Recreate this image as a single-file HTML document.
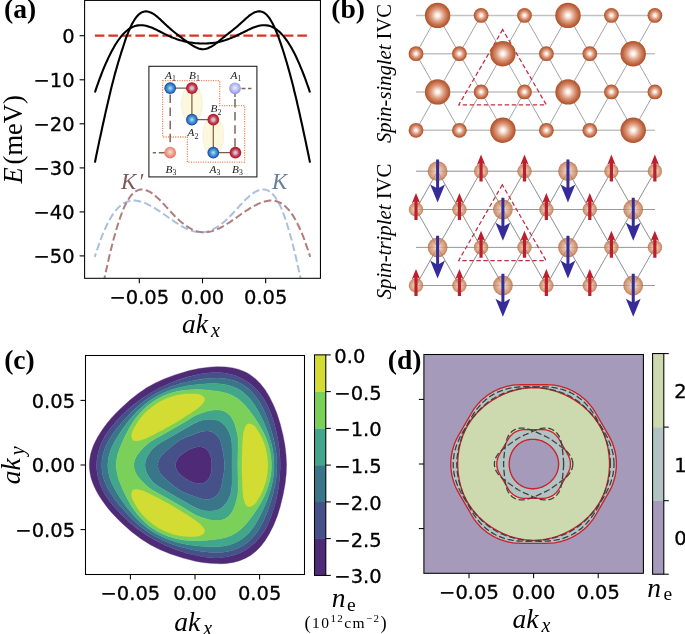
<!DOCTYPE html>
<html><head><meta charset="utf-8"><title>Figure</title>
<style>html,body{margin:0;padding:0;background:#fff}svg{display:block}</style>
</head><body>
<svg width="685" height="634" viewBox="0 0 685 634">
<rect width="685" height="634" fill="#fff"/>
<defs>
<radialGradient id="gS" cx="50%" cy="50%" r="50%"><stop offset="0" stop-color="#ffffff"/><stop offset="0.14" stop-color="#fdf0ea"/><stop offset="0.5" stop-color="#dd9e82"/><stop offset="0.8" stop-color="#c26a44"/><stop offset="1" stop-color="#ad5029"/></radialGradient>
<radialGradient id="gT" cx="50%" cy="50%" r="50%"><stop offset="0" stop-color="#f8eae2"/><stop offset="0.4" stop-color="#e2b496"/><stop offset="0.8" stop-color="#cc8a62"/><stop offset="1" stop-color="#b96a42"/></radialGradient>
<radialGradient id="gB" cx="50%" cy="50%" r="50%"><stop offset="0" stop-color="#c4e6f6"/><stop offset="0.35" stop-color="#5cacdc"/><stop offset="0.7" stop-color="#2e80c8"/><stop offset="0.88" stop-color="#2a52aa"/><stop offset="1" stop-color="#2a3a9c"/></radialGradient>
<radialGradient id="gR" cx="50%" cy="50%" r="50%"><stop offset="0" stop-color="#dad6f0"/><stop offset="0.3" stop-color="#cba4c0"/><stop offset="0.62" stop-color="#c43a4a"/><stop offset="0.9" stop-color="#b81c28"/><stop offset="1" stop-color="#a81820"/></radialGradient>
<radialGradient id="gBl" cx="50%" cy="45%" r="50%"><stop offset="0" stop-color="#eef0ff"/><stop offset="0.6" stop-color="#b9bdf0"/><stop offset="1" stop-color="#9a9ae0"/></radialGradient>
<radialGradient id="gRl" cx="50%" cy="45%" r="50%"><stop offset="0" stop-color="#fbe0d6"/><stop offset="0.6" stop-color="#ee9f8c"/><stop offset="1" stop-color="#e27c68"/></radialGradient>
<clipPath id="clipA"><rect x="84.6" y="0" width="235.8" height="278.3"/></clipPath>
<clipPath id="clipC"><rect x="85.5" y="355.5" width="219" height="219"/></clipPath>
<clipPath id="clipD"><rect x="424.4" y="354.4" width="218.7" height="218"/></clipPath>
</defs>
<g clip-path="url(#clipA)">
<path d="M94.9,35.6 L310.1,35.6" stroke="#e03020" stroke-width="2.1" stroke-dasharray="9.5,4" fill="none"/>
<path d="M94.9,162.6 L96.4,155.0 L98.0,147.4 L99.5,140.1 L101.1,132.9 L102.6,125.8 L104.2,118.8 L105.7,111.9 L107.3,105.1 L108.8,98.4 L110.4,91.8 L111.9,85.5 L113.5,79.4 L115.0,73.6 L116.6,68.1 L118.1,62.7 L119.7,57.6 L121.2,52.7 L122.8,47.9 L124.3,43.2 L125.8,38.7 L127.4,34.5 L128.9,30.7 L130.5,27.2 L132.0,24.0 L133.6,21.2 L135.1,18.8 L136.7,16.7 L138.2,15.0 L139.8,13.6 L141.3,12.6 L142.9,11.9 L144.4,11.5 L146.0,11.4 L147.5,11.5 L149.1,11.9 L150.6,12.4 L152.2,13.2 L153.7,14.1 L155.3,15.2 L156.8,16.4 L158.3,17.7 L159.9,19.1 L161.4,20.6 L163.0,22.0 L164.5,23.5 L166.1,25.0 L167.6,26.4 L169.2,27.8 L170.7,29.1 L172.3,30.5 L173.8,31.7 L175.4,33.0 L176.9,34.2 L178.5,35.4 L180.0,36.6 L181.6,37.7 L183.1,38.9 L184.7,40.0 L186.2,41.1 L187.7,42.2 L189.3,43.3 L190.8,44.4 L192.4,45.4 L193.9,46.3 L195.5,47.1 L197.0,47.8 L198.6,48.4 L200.1,48.9 L201.7,49.1 L203.2,49.2 L204.8,49.0 L206.3,48.7 L207.9,48.2 L209.4,47.5 L211.0,46.8 L212.5,45.9 L214.1,44.8 L215.6,43.7 L217.2,42.6 L218.7,41.4 L220.2,40.1 L221.8,38.8 L223.3,37.5 L224.9,36.3 L226.4,35.0 L228.0,33.8 L229.5,32.6 L231.1,31.4 L232.6,30.2 L234.2,28.9 L235.7,27.7 L237.3,26.4 L238.8,25.0 L240.4,23.6 L241.9,22.2 L243.5,20.8 L245.0,19.4 L246.6,18.0 L248.1,16.7 L249.6,15.4 L251.2,14.3 L252.7,13.4 L254.3,12.5 L255.8,11.9 L257.4,11.5 L258.9,11.3 L260.5,11.4 L262.0,11.8 L263.6,12.4 L265.1,13.5 L266.7,14.8 L268.2,16.6 L269.8,18.7 L271.3,21.2 L272.9,24.1 L274.4,27.3 L276.0,30.9 L277.5,34.7 L279.1,38.8 L280.6,43.2 L282.1,47.7 L283.7,52.5 L285.2,57.5 L286.8,62.7 L288.3,68.1 L289.9,73.7 L291.4,79.5 L293.0,85.6 L294.5,91.9 L296.1,98.3 L297.6,105.0 L299.2,111.8 L300.7,118.8 L302.3,125.8 L303.8,133.0 L305.4,140.2 L306.9,147.5 L308.5,155.0 L310.0,162.6" stroke="#000" stroke-width="2.1" fill="none" stroke-linejoin="round"/>
<path d="M94.9,92.5 L96.4,87.9 L98.0,83.4 L99.5,79.1 L101.1,75.0 L102.6,71.0 L104.2,67.2 L105.7,63.6 L107.3,60.2 L108.8,56.9 L110.4,53.8 L111.9,50.8 L113.5,48.0 L115.0,45.3 L116.6,42.8 L118.1,40.5 L119.7,38.3 L121.2,36.4 L122.8,34.5 L124.3,32.9 L125.8,31.5 L127.4,30.2 L128.9,29.0 L130.5,28.1 L132.0,27.3 L133.6,26.6 L135.1,26.0 L136.7,25.6 L138.2,25.4 L139.8,25.2 L141.3,25.2 L142.9,25.3 L144.4,25.5 L146.0,25.8 L147.5,26.2 L149.1,26.7 L150.6,27.2 L152.2,27.8 L153.7,28.5 L155.3,29.2 L156.8,29.9 L158.3,30.7 L159.9,31.5 L161.4,32.3 L163.0,33.1 L164.5,33.9 L166.1,34.6 L167.6,35.4 L169.2,36.1 L170.7,36.8 L172.3,37.4 L173.8,38.1 L175.4,38.6 L176.9,39.2 L178.5,39.7 L180.0,40.2 L181.6,40.6 L183.1,41.0 L184.7,41.4 L186.2,41.8 L187.7,42.1 L189.3,42.4 L190.8,42.6 L192.4,42.8 L193.9,43.0 L195.5,43.2 L197.0,43.3 L198.6,43.4 L200.1,43.5 L201.7,43.5 L203.2,43.5 L204.8,43.5 L206.3,43.5 L207.9,43.4 L209.4,43.3 L211.0,43.1 L212.5,43.0 L214.1,42.7 L215.6,42.5 L217.2,42.2 L218.7,41.9 L220.2,41.6 L221.8,41.2 L223.3,40.7 L224.9,40.3 L226.4,39.8 L228.0,39.2 L229.5,38.6 L231.1,38.0 L232.6,37.4 L234.2,36.7 L235.7,36.0 L237.3,35.3 L238.8,34.5 L240.4,33.8 L241.9,33.0 L243.5,32.3 L245.0,31.5 L246.6,30.7 L248.1,29.9 L249.6,29.2 L251.2,28.5 L252.7,27.8 L254.3,27.2 L255.8,26.7 L257.4,26.2 L258.9,25.8 L260.5,25.5 L262.0,25.3 L263.6,25.2 L265.1,25.2 L266.7,25.4 L268.2,25.6 L269.8,26.1 L271.3,26.6 L272.9,27.3 L274.4,28.2 L276.0,29.1 L277.5,30.3 L279.1,31.6 L280.6,33.0 L282.1,34.6 L283.7,36.4 L285.2,38.4 L286.8,40.5 L288.3,42.7 L289.9,45.2 L291.4,47.8 L293.0,50.7 L294.5,53.6 L296.1,56.8 L297.6,60.1 L299.2,63.6 L300.7,67.3 L302.3,71.1 L303.8,75.0 L305.4,79.2 L306.9,83.5 L308.5,87.9 L310.0,92.5" stroke="#000" stroke-width="2.1" fill="none" stroke-linejoin="round"/>
<path d="M301.5,283.0 L299.8,274.7 L298.0,266.7 L296.3,259.0 L294.6,251.7 L292.8,244.7 L291.1,238.1 L289.3,231.8 L287.6,226.0 L285.9,220.6 L284.1,215.6 L282.4,211.0 L280.7,206.9 L278.9,203.3 L277.2,200.2 L275.4,197.5 L273.7,195.2 L272.0,193.4 L270.2,191.9 L268.5,190.8 L266.8,190.1 L265.0,189.6 L263.3,189.5 L261.5,189.6 L259.8,189.9 L258.1,190.5 L256.3,191.3 L254.6,192.2 L252.9,193.4 L251.1,194.7 L249.4,196.1 L247.7,197.7 L245.9,199.3 L244.2,201.0 L242.4,202.9 L240.7,204.7 L239.0,206.6 L237.2,208.5 L235.5,210.4 L233.8,212.3 L232.0,214.2 L230.3,216.0 L228.5,217.7 L226.8,219.3 L225.1,220.9 L223.3,222.4 L221.6,223.8 L219.9,225.1 L218.1,226.3 L216.4,227.4 L214.7,228.5 L212.9,229.4 L211.2,230.2 L209.4,230.8 L207.7,231.4 L206.0,231.8 L204.2,232.1 L202.5,232.3 L200.8,232.4 L199.0,232.3 L197.3,232.1 L195.5,231.8 L193.8,231.4 L192.1,230.9 L190.3,230.3 L188.6,229.6 L186.9,228.8 L185.1,228.0 L183.4,227.1 L181.6,226.1 L179.9,225.1 L178.2,224.0 L176.4,222.9 L174.7,221.8 L173.0,220.6 L171.2,219.4 L169.5,218.2 L167.8,217.0 L166.0,215.7 L164.3,214.5 L162.5,213.3 L160.8,212.1 L159.1,210.9 L157.3,209.8 L155.6,208.7 L153.9,207.6 L152.1,206.6 L150.4,205.7 L148.6,204.8 L146.9,203.9 L145.2,203.2 L143.4,202.5 L141.7,201.9 L140.0,201.4 L138.2,201.1 L136.5,200.8 L134.8,200.6 L133.0,200.6 L131.3,200.8 L129.5,201.1 L127.8,201.5 L126.1,202.2 L124.3,203.0 L122.6,204.1 L120.9,205.4 L119.1,206.9 L117.4,208.6 L115.6,210.6 L113.9,212.9 L112.2,215.4 L110.4,218.3 L108.7,221.4 L107.0,224.8 L105.2,228.5 L103.5,232.5 L101.7,236.8 L100.0,241.4 L98.3,246.3 L96.5,251.4 L94.8,256.9" stroke="#a9c0de" stroke-width="2.0" fill="none" stroke-dasharray="7.6,3.3"/>
<path d="M103.5,283.0 L105.2,274.7 L107.0,266.7 L108.7,259.0 L110.4,251.7 L112.2,244.7 L113.9,238.1 L115.7,231.8 L117.4,226.0 L119.1,220.6 L120.9,215.6 L122.6,211.0 L124.3,206.9 L126.1,203.3 L127.8,200.2 L129.6,197.5 L131.3,195.2 L133.0,193.4 L134.8,191.9 L136.5,190.8 L138.2,190.1 L140.0,189.6 L141.7,189.5 L143.5,189.6 L145.2,189.9 L146.9,190.5 L148.7,191.3 L150.4,192.2 L152.1,193.4 L153.9,194.7 L155.6,196.1 L157.3,197.7 L159.1,199.3 L160.8,201.0 L162.6,202.9 L164.3,204.7 L166.0,206.6 L167.8,208.5 L169.5,210.4 L171.2,212.3 L173.0,214.2 L174.7,216.0 L176.5,217.7 L178.2,219.3 L179.9,220.9 L181.7,222.4 L183.4,223.8 L185.1,225.1 L186.9,226.3 L188.6,227.4 L190.3,228.5 L192.1,229.4 L193.8,230.2 L195.6,230.8 L197.3,231.4 L199.0,231.8 L200.8,232.1 L202.5,232.3 L204.2,232.4 L206.0,232.3 L207.7,232.1 L209.5,231.8 L211.2,231.4 L212.9,230.9 L214.7,230.3 L216.4,229.6 L218.1,228.8 L219.9,228.0 L221.6,227.1 L223.4,226.1 L225.1,225.1 L226.8,224.0 L228.6,222.9 L230.3,221.8 L232.0,220.6 L233.8,219.4 L235.5,218.2 L237.2,217.0 L239.0,215.7 L240.7,214.5 L242.5,213.3 L244.2,212.1 L245.9,210.9 L247.7,209.8 L249.4,208.7 L251.1,207.6 L252.9,206.6 L254.6,205.7 L256.4,204.8 L258.1,203.9 L259.8,203.2 L261.6,202.5 L263.3,201.9 L265.0,201.4 L266.8,201.1 L268.5,200.8 L270.2,200.6 L272.0,200.6 L273.7,200.8 L275.5,201.1 L277.2,201.5 L278.9,202.2 L280.7,203.0 L282.4,204.1 L284.1,205.4 L285.9,206.9 L287.6,208.6 L289.4,210.6 L291.1,212.9 L292.8,215.4 L294.6,218.3 L296.3,221.4 L298.0,224.8 L299.8,228.5 L301.5,232.5 L303.3,236.8 L305.0,241.4 L306.7,246.3 L308.5,251.4 L310.2,256.9" stroke="#b17e7e" stroke-width="2.0" fill="none" stroke-dasharray="7.6,3.3"/>
</g>
<rect x="84.6" y="0.4" width="235.85" height="277.90000000000003" fill="none" stroke="#000" stroke-width="1.05"/>
<path d="M79.6,35.7 H84.6" stroke="#000" stroke-width="1.1"/>
<text x="74.69999999999999" y="43.1" font-family="DejaVu Sans, Liberation Sans, sans-serif" stroke="#000" stroke-width="0.3" font-size="19.5" text-anchor="end">0</text>
<path d="M79.6,79.8 H84.6" stroke="#000" stroke-width="1.1"/>
<text x="74.69999999999999" y="87.2" font-family="DejaVu Sans, Liberation Sans, sans-serif" stroke="#000" stroke-width="0.3" font-size="19.5" text-anchor="end">−10</text>
<path d="M79.6,123.8 H84.6" stroke="#000" stroke-width="1.1"/>
<text x="74.69999999999999" y="131.2" font-family="DejaVu Sans, Liberation Sans, sans-serif" stroke="#000" stroke-width="0.3" font-size="19.5" text-anchor="end">−20</text>
<path d="M79.6,167.9 H84.6" stroke="#000" stroke-width="1.1"/>
<text x="74.69999999999999" y="175.3" font-family="DejaVu Sans, Liberation Sans, sans-serif" stroke="#000" stroke-width="0.3" font-size="19.5" text-anchor="end">−30</text>
<path d="M79.6,211.9 H84.6" stroke="#000" stroke-width="1.1"/>
<text x="74.69999999999999" y="219.3" font-family="DejaVu Sans, Liberation Sans, sans-serif" stroke="#000" stroke-width="0.3" font-size="19.5" text-anchor="end">−40</text>
<path d="M79.6,255.9 H84.6" stroke="#000" stroke-width="1.1"/>
<text x="74.69999999999999" y="263.3" font-family="DejaVu Sans, Liberation Sans, sans-serif" stroke="#000" stroke-width="0.3" font-size="19.5" text-anchor="end">−50</text>
<path d="M139.3,278.3 V283.3" stroke="#000" stroke-width="1.1"/>
<text x="139.3" y="303.6" font-family="DejaVu Sans, Liberation Sans, sans-serif" stroke="#000" stroke-width="0.3" font-size="19.5" text-anchor="middle">−0.05</text>
<path d="M202.5,278.3 V283.3" stroke="#000" stroke-width="1.1"/>
<text x="202.5" y="303.6" font-family="DejaVu Sans, Liberation Sans, sans-serif" stroke="#000" stroke-width="0.3" font-size="19.5" text-anchor="middle">0.00</text>
<path d="M265.7,278.3 V283.3" stroke="#000" stroke-width="1.1"/>
<text x="265.7" y="303.6" font-family="DejaVu Sans, Liberation Sans, sans-serif" stroke="#000" stroke-width="0.3" font-size="19.5" text-anchor="middle">0.05</text>
<text transform="translate(4.0,18.4) scale(1.04,1)" font-family="Liberation Serif, DejaVu Serif, serif" font-size="26.5" font-weight="bold">(a)</text>
<text transform="translate(22.3,183.6) rotate(-90)" font-family="Liberation Serif, DejaVu Serif, serif" font-size="26.5"><tspan font-style="italic">E</tspan><tspan dx="3">(meV)</tspan></text>
<text x="182" y="332.7" font-family="Liberation Serif, DejaVu Serif, serif" font-size="27.5" font-style="italic">ak<tspan font-size="20" dy="4.5" dx="3">x</tspan></text>
<text x="121" y="188.5" font-family="Liberation Serif, DejaVu Serif, serif" font-size="22.8" font-style="italic" fill="#7d5a5a">K<tspan dx="2">′</tspan></text>
<text x="272" y="188.5" font-family="Liberation Serif, DejaVu Serif, serif" font-size="22.8" font-style="italic" fill="#6a7f99">K</text>
<rect x="148.9" y="66.3" width="108" height="110.6" fill="#fff" stroke="#222" stroke-width="1.1"/>
<ellipse cx="191.9" cy="104" rx="10.5" ry="20" fill="#fbf8dc" stroke="#f0e6d8" stroke-width="0.5"/>
<ellipse cx="213.3" cy="136" rx="10.5" ry="20" fill="#fbf8dc" stroke="#f0e6d8" stroke-width="0.5"/>
<path d="M162.6,80.7 H219.6 V105.6 H244.6 V162.1 H187.4 V137 H162.6 Z" fill="none" stroke="#f0805a" stroke-width="1.3" stroke-dasharray="1.1,1.3"/>
<path d="M170.2,94.5 V152.7 M235,99 V152.7" stroke="#80645a" stroke-width="1.5" stroke-dasharray="8.5,4.6" fill="none"/>
<path d="M152.8,152.7 H156 M158.8,152.7 H165 M241.5,88.4 H245.5 M248,88.4 H251.5 M235,93.5 V97" stroke="#80645a" stroke-width="1.5" fill="none"/>
<path d="M170.2,88.2 H191.9 V119.7 H213.3 V152.7 H235.4" stroke="#7a5a48" stroke-width="1.2" fill="none"/>
<circle cx="170.2" cy="88.2" r="5.85" fill="url(#gB)" stroke="none" stroke-width="0.6"/>
<circle cx="191.9" cy="88.2" r="5.85" fill="url(#gR)" stroke="none" stroke-width="0.6"/>
<circle cx="191.9" cy="119.7" r="5.85" fill="url(#gB)" stroke="none" stroke-width="0.6"/>
<circle cx="213.3" cy="119.7" r="5.85" fill="url(#gR)" stroke="none" stroke-width="0.6"/>
<circle cx="213.3" cy="152.7" r="5.85" fill="url(#gB)" stroke="none" stroke-width="0.6"/>
<circle cx="235.4" cy="152.7" r="5.85" fill="url(#gR)" stroke="none" stroke-width="0.6"/>
<circle cx="235" cy="88.4" r="5.85" fill="url(#gBl)" stroke="none" stroke-width="0.6"/>
<circle cx="170.2" cy="152.7" r="5.85" fill="url(#gRl)" stroke="none" stroke-width="0.6"/>
<text x="170.5" y="78.6" font-family="Liberation Serif, DejaVu Serif, serif" font-size="11.3" font-style="italic" text-anchor="middle" fill="#222">A<tspan font-size="7.8" dy="2.4" font-style="normal">1</tspan></text>
<text x="194.5" y="78.6" font-family="Liberation Serif, DejaVu Serif, serif" font-size="11.3" font-style="italic" text-anchor="middle" fill="#222">B<tspan font-size="7.8" dy="2.4" font-style="normal">1</tspan></text>
<text x="236" y="78.6" font-family="Liberation Serif, DejaVu Serif, serif" font-size="11.3" font-style="italic" text-anchor="middle" fill="#222">A<tspan font-size="7.8" dy="2.4" font-style="normal">1</tspan></text>
<text x="216" y="112.3" font-family="Liberation Serif, DejaVu Serif, serif" font-size="11.3" font-style="italic" text-anchor="middle" fill="#222">B<tspan font-size="7.8" dy="2.4" font-style="normal">2</tspan></text>
<text x="193" y="136.3" font-family="Liberation Serif, DejaVu Serif, serif" font-size="11.3" font-style="italic" text-anchor="middle" fill="#222">A<tspan font-size="7.8" dy="2.4" font-style="normal">2</tspan></text>
<text x="171" y="172.6" font-family="Liberation Serif, DejaVu Serif, serif" font-size="11.3" font-style="italic" text-anchor="middle" fill="#222">B<tspan font-size="7.8" dy="2.4" font-style="normal">3</tspan></text>
<text x="215" y="172.6" font-family="Liberation Serif, DejaVu Serif, serif" font-size="11.3" font-style="italic" text-anchor="middle" fill="#222">A<tspan font-size="7.8" dy="2.4" font-style="normal">3</tspan></text>
<text x="237.5" y="172.6" font-family="Liberation Serif, DejaVu Serif, serif" font-size="11.3" font-style="italic" text-anchor="middle" fill="#222">B<tspan font-size="7.8" dy="2.4" font-style="normal">3</tspan></text>
<text transform="translate(331.3,18.4) scale(1.04,1)" font-family="Liberation Serif, DejaVu Serif, serif" font-size="26.5" font-weight="bold">(b)</text>
<text transform="translate(390.5,143) rotate(-90)" font-family="Liberation Serif, DejaVu Serif, serif" font-size="20.6"><tspan font-style="italic">Spin-singlet</tspan> IVC</text>
<text transform="translate(390.5,299.3) rotate(-90)" font-family="Liberation Serif, DejaVu Serif, serif" font-size="20.8"><tspan font-style="italic">Spin-triplet</tspan> IVC</text>
<path d="M416.0,15.4 H655" stroke="#c2c2c2" stroke-width="1.5"/>
<path d="M416.0,53.7 H655" stroke="#c2c2c2" stroke-width="1.5"/>
<path d="M416.0,91.9 H655" stroke="#c2c2c2" stroke-width="1.5"/>
<path d="M416.0,130.3 H655" stroke="#c2c2c2" stroke-width="1.5"/>
<path d="M437.6,15.4 L416.0,53.7 M437.6,15.4 L459.4,53.7 M481.1,15.4 L459.4,53.7 M481.1,15.4 L502.9,53.7 M524.5,15.4 L502.9,53.7 M524.5,15.4 L546.4,53.7 M568.0,15.4 L546.4,53.7 M568.0,15.4 L589.8,53.7 M611.4,15.4 L589.8,53.7 M611.4,15.4 L633.2,53.7 M654.9,15.4 L633.2,53.7 M416.0,53.7 L437.6,91.9 M459.4,53.7 L437.6,91.9 M459.4,53.7 L481.1,91.9 M502.9,53.7 L481.1,91.9 M502.9,53.7 L524.5,91.9 M546.4,53.7 L524.5,91.9 M546.4,53.7 L568.0,91.9 M589.8,53.7 L568.0,91.9 M589.8,53.7 L611.4,91.9 M633.2,53.7 L611.4,91.9 M633.2,53.7 L654.9,91.9 M437.6,91.9 L416.0,130.3 M437.6,91.9 L459.4,130.3 M481.1,91.9 L459.4,130.3 M481.1,91.9 L502.9,130.3 M524.5,91.9 L502.9,130.3 M524.5,91.9 L546.4,130.3 M568.0,91.9 L546.4,130.3 M568.0,91.9 L589.8,130.3 M611.4,91.9 L589.8,130.3 M611.4,91.9 L633.2,130.3 M654.9,91.9 L633.2,130.3 " stroke="#8c8c8c" stroke-width="0.8" fill="none"/>
<path d="M502.7,29.6 L458.8,104.8 H546.3 Z" fill="none" stroke="#c42c40" stroke-width="1.25" stroke-dasharray="4.4,2.6"/>
<circle cx="437.6" cy="15.4" r="12.7" fill="url(#gS)"/>
<circle cx="481.1" cy="15.4" r="7.4" fill="url(#gS)"/>
<circle cx="524.5" cy="15.4" r="7.4" fill="url(#gS)"/>
<circle cx="568.0" cy="15.4" r="12.7" fill="url(#gS)"/>
<circle cx="611.4" cy="15.4" r="7.4" fill="url(#gS)"/>
<circle cx="654.9" cy="15.4" r="7.4" fill="url(#gS)"/>
<circle cx="416.0" cy="53.7" r="7.4" fill="url(#gS)"/>
<circle cx="459.4" cy="53.7" r="7.4" fill="url(#gS)"/>
<circle cx="502.9" cy="53.7" r="12.7" fill="url(#gS)"/>
<circle cx="546.4" cy="53.7" r="7.4" fill="url(#gS)"/>
<circle cx="589.8" cy="53.7" r="7.4" fill="url(#gS)"/>
<circle cx="633.2" cy="53.7" r="12.7" fill="url(#gS)"/>
<circle cx="437.6" cy="91.9" r="12.7" fill="url(#gS)"/>
<circle cx="481.1" cy="91.9" r="7.4" fill="url(#gS)"/>
<circle cx="524.5" cy="91.9" r="7.4" fill="url(#gS)"/>
<circle cx="568.0" cy="91.9" r="12.7" fill="url(#gS)"/>
<circle cx="611.4" cy="91.9" r="7.4" fill="url(#gS)"/>
<circle cx="654.9" cy="91.9" r="7.4" fill="url(#gS)"/>
<circle cx="416.0" cy="130.3" r="7.4" fill="url(#gS)"/>
<circle cx="459.4" cy="130.3" r="7.4" fill="url(#gS)"/>
<circle cx="502.9" cy="130.3" r="12.7" fill="url(#gS)"/>
<circle cx="546.4" cy="130.3" r="7.4" fill="url(#gS)"/>
<circle cx="589.8" cy="130.3" r="7.4" fill="url(#gS)"/>
<circle cx="633.2" cy="130.3" r="12.7" fill="url(#gS)"/>
<path d="M416.0,171.2 H655" stroke="#8e8e8e" stroke-width="0.85"/>
<path d="M416.0,209.5 H655" stroke="#8e8e8e" stroke-width="0.85"/>
<path d="M416.0,247.4 H655" stroke="#8e8e8e" stroke-width="0.85"/>
<path d="M416.0,285.5 H655" stroke="#8e8e8e" stroke-width="0.85"/>
<path d="M437.6,171.2 L416.0,209.5 M437.6,171.2 L459.4,209.5 M481.1,171.2 L459.4,209.5 M481.1,171.2 L502.9,209.5 M524.5,171.2 L502.9,209.5 M524.5,171.2 L546.4,209.5 M568.0,171.2 L546.4,209.5 M568.0,171.2 L589.8,209.5 M611.4,171.2 L589.8,209.5 M611.4,171.2 L633.2,209.5 M654.9,171.2 L633.2,209.5 M416.0,209.5 L437.6,247.4 M459.4,209.5 L437.6,247.4 M459.4,209.5 L481.1,247.4 M502.9,209.5 L481.1,247.4 M502.9,209.5 L524.5,247.4 M546.4,209.5 L524.5,247.4 M546.4,209.5 L568.0,247.4 M589.8,209.5 L568.0,247.4 M589.8,209.5 L611.4,247.4 M633.2,209.5 L611.4,247.4 M633.2,209.5 L654.9,247.4 M437.6,247.4 L416.0,285.5 M437.6,247.4 L459.4,285.5 M481.1,247.4 L459.4,285.5 M481.1,247.4 L502.9,285.5 M524.5,247.4 L502.9,285.5 M524.5,247.4 L546.4,285.5 M568.0,247.4 L546.4,285.5 M568.0,247.4 L589.8,285.5 M611.4,247.4 L589.8,285.5 M611.4,247.4 L633.2,285.5 M654.9,247.4 L633.2,285.5 " stroke="#6a6a6a" stroke-width="0.65" fill="none"/>
<path d="M502.3,184.8 L458.7,260.5 H546 Z" fill="none" stroke="#c42c40" stroke-width="1.25" stroke-dasharray="4.4,2.6"/>
<circle cx="437.6" cy="171.2" r="9.9" fill="url(#gT)" fill-opacity="0.86"/>
<circle cx="481.1" cy="171.2" r="7.2" fill="url(#gT)" fill-opacity="0.86"/>
<circle cx="524.5" cy="171.2" r="7.2" fill="url(#gT)" fill-opacity="0.86"/>
<circle cx="568.0" cy="171.2" r="9.9" fill="url(#gT)" fill-opacity="0.86"/>
<circle cx="611.4" cy="171.2" r="7.2" fill="url(#gT)" fill-opacity="0.86"/>
<circle cx="654.9" cy="171.2" r="7.2" fill="url(#gT)" fill-opacity="0.86"/>
<circle cx="416.0" cy="209.5" r="7.2" fill="url(#gT)" fill-opacity="0.86"/>
<circle cx="459.4" cy="209.5" r="7.2" fill="url(#gT)" fill-opacity="0.86"/>
<circle cx="502.9" cy="209.5" r="9.9" fill="url(#gT)" fill-opacity="0.86"/>
<circle cx="546.4" cy="209.5" r="7.2" fill="url(#gT)" fill-opacity="0.86"/>
<circle cx="589.8" cy="209.5" r="7.2" fill="url(#gT)" fill-opacity="0.86"/>
<circle cx="633.2" cy="209.5" r="9.9" fill="url(#gT)" fill-opacity="0.86"/>
<circle cx="437.6" cy="247.4" r="9.9" fill="url(#gT)" fill-opacity="0.86"/>
<circle cx="481.1" cy="247.4" r="7.2" fill="url(#gT)" fill-opacity="0.86"/>
<circle cx="524.5" cy="247.4" r="7.2" fill="url(#gT)" fill-opacity="0.86"/>
<circle cx="568.0" cy="247.4" r="9.9" fill="url(#gT)" fill-opacity="0.86"/>
<circle cx="611.4" cy="247.4" r="7.2" fill="url(#gT)" fill-opacity="0.86"/>
<circle cx="654.9" cy="247.4" r="7.2" fill="url(#gT)" fill-opacity="0.86"/>
<circle cx="416.0" cy="285.5" r="7.2" fill="url(#gT)" fill-opacity="0.86"/>
<circle cx="459.4" cy="285.5" r="7.2" fill="url(#gT)" fill-opacity="0.86"/>
<circle cx="502.9" cy="285.5" r="9.9" fill="url(#gT)" fill-opacity="0.86"/>
<circle cx="546.4" cy="285.5" r="7.2" fill="url(#gT)" fill-opacity="0.86"/>
<circle cx="589.8" cy="285.5" r="7.2" fill="url(#gT)" fill-opacity="0.86"/>
<circle cx="633.2" cy="285.5" r="9.9" fill="url(#gT)" fill-opacity="0.86"/>
<g opacity="0.3">
<path d="M416.0,171.2 H655" stroke="#8e8e8e" stroke-width="0.85"/>
<path d="M416.0,209.5 H655" stroke="#8e8e8e" stroke-width="0.85"/>
<path d="M416.0,247.4 H655" stroke="#8e8e8e" stroke-width="0.85"/>
<path d="M416.0,285.5 H655" stroke="#8e8e8e" stroke-width="0.85"/>
<path d="M437.6,171.2 L416.0,209.5 M437.6,171.2 L459.4,209.5 M481.1,171.2 L459.4,209.5 M481.1,171.2 L502.9,209.5 M524.5,171.2 L502.9,209.5 M524.5,171.2 L546.4,209.5 M568.0,171.2 L546.4,209.5 M568.0,171.2 L589.8,209.5 M611.4,171.2 L589.8,209.5 M611.4,171.2 L633.2,209.5 M654.9,171.2 L633.2,209.5 M416.0,209.5 L437.6,247.4 M459.4,209.5 L437.6,247.4 M459.4,209.5 L481.1,247.4 M502.9,209.5 L481.1,247.4 M502.9,209.5 L524.5,247.4 M546.4,209.5 L524.5,247.4 M546.4,209.5 L568.0,247.4 M589.8,209.5 L568.0,247.4 M589.8,209.5 L611.4,247.4 M633.2,209.5 L611.4,247.4 M633.2,209.5 L654.9,247.4 M437.6,247.4 L416.0,285.5 M437.6,247.4 L459.4,285.5 M481.1,247.4 L459.4,285.5 M481.1,247.4 L502.9,285.5 M524.5,247.4 L502.9,285.5 M524.5,247.4 L546.4,285.5 M568.0,247.4 L546.4,285.5 M568.0,247.4 L589.8,285.5 M611.4,247.4 L589.8,285.5 M611.4,247.4 L633.2,285.5 M654.9,247.4 L633.2,285.5 " stroke="#6a6a6a" stroke-width="0.65" fill="none"/>
</g>
<path d="M436.10,159.5 H439.10 V187.8 L445.00,184.4 L437.60,202.4 L430.20,184.4 L436.10,187.8 Z" fill="#352c99"/>
<path d="M479.45,181.6 H482.65 V163.2 L485.25,164.9 L481.05,154.6 L476.85,164.9 L479.45,163.2 Z" fill="#be1e2b"/>
<path d="M522.90,181.6 H526.10 V163.2 L528.70,164.9 L524.50,154.6 L520.30,164.9 L522.90,163.2 Z" fill="#be1e2b"/>
<path d="M566.45,159.5 H569.45 V187.8 L575.35,184.4 L567.95,202.4 L560.55,184.4 L566.45,187.8 Z" fill="#352c99"/>
<path d="M609.80,181.6 H613.00 V163.2 L615.60,164.9 L611.40,154.6 L607.20,164.9 L609.80,163.2 Z" fill="#be1e2b"/>
<path d="M653.25,181.6 H656.45 V163.2 L659.05,164.9 L654.85,154.6 L650.65,164.9 L653.25,163.2 Z" fill="#be1e2b"/>
<path d="M414.40,219.9 H417.60 V201.5 L420.20,203.2 L416.00,192.9 L411.80,203.2 L414.40,201.5 Z" fill="#be1e2b"/>
<path d="M457.85,219.9 H461.05 V201.5 L463.65,203.2 L459.45,192.9 L455.25,203.2 L457.85,201.5 Z" fill="#be1e2b"/>
<path d="M501.40,197.8 H504.40 V226.1 L510.30,222.7 L502.90,240.7 L495.50,222.7 L501.40,226.1 Z" fill="#352c99"/>
<path d="M544.75,219.9 H547.95 V201.5 L550.55,203.2 L546.35,192.9 L542.15,203.2 L544.75,201.5 Z" fill="#be1e2b"/>
<path d="M588.20,219.9 H591.40 V201.5 L594.00,203.2 L589.80,192.9 L585.60,203.2 L588.20,201.5 Z" fill="#be1e2b"/>
<path d="M631.75,197.8 H634.75 V226.1 L640.65,222.7 L633.25,240.7 L625.85,222.7 L631.75,226.1 Z" fill="#352c99"/>
<path d="M436.10,235.7 H439.10 V264.0 L445.00,260.6 L437.60,278.6 L430.20,260.6 L436.10,264.0 Z" fill="#352c99"/>
<path d="M479.45,257.8 H482.65 V239.4 L485.25,241.1 L481.05,230.8 L476.85,241.1 L479.45,239.4 Z" fill="#be1e2b"/>
<path d="M522.90,257.8 H526.10 V239.4 L528.70,241.1 L524.50,230.8 L520.30,241.1 L522.90,239.4 Z" fill="#be1e2b"/>
<path d="M566.45,235.7 H569.45 V264.0 L575.35,260.6 L567.95,278.6 L560.55,260.6 L566.45,264.0 Z" fill="#352c99"/>
<path d="M609.80,257.8 H613.00 V239.4 L615.60,241.1 L611.40,230.8 L607.20,241.1 L609.80,239.4 Z" fill="#be1e2b"/>
<path d="M653.25,257.8 H656.45 V239.4 L659.05,241.1 L654.85,230.8 L650.65,241.1 L653.25,239.4 Z" fill="#be1e2b"/>
<path d="M414.40,295.9 H417.60 V277.5 L420.20,279.2 L416.00,268.9 L411.80,279.2 L414.40,277.5 Z" fill="#be1e2b"/>
<path d="M457.85,295.9 H461.05 V277.5 L463.65,279.2 L459.45,268.9 L455.25,279.2 L457.85,277.5 Z" fill="#be1e2b"/>
<path d="M501.40,273.8 H504.40 V302.1 L510.30,298.7 L502.90,316.7 L495.50,298.7 L501.40,302.1 Z" fill="#352c99"/>
<path d="M544.75,295.9 H547.95 V277.5 L550.55,279.2 L546.35,268.9 L542.15,279.2 L544.75,277.5 Z" fill="#be1e2b"/>
<path d="M588.20,295.9 H591.40 V277.5 L594.00,279.2 L589.80,268.9 L585.60,279.2 L588.20,277.5 Z" fill="#be1e2b"/>
<path d="M631.75,273.8 H634.75 V302.1 L640.65,298.7 L633.25,316.7 L625.85,298.7 L631.75,302.1 Z" fill="#352c99"/>
<g clip-path="url(#clipC)">
<path d="M209.3,367.2 217.7,366.7 225.7,367.0 232.7,367.9 238.7,369.4 244.7,371.8 247.7,373.3 250.7,375.2 255.9,379.2 260.4,383.7 265.1,389.7 269.2,396.4 273.3,404.7 277.0,413.7 280.0,423.2 282.9,434.7 284.9,445.2 286.0,454.7 286.5,464.2 286.2,473.7 285.1,483.7 283.1,494.7 280.3,506.2 277.4,515.7 273.6,525.2 269.3,533.7 265.2,540.5 260.8,546.2 256.2,550.9 251.2,554.9 245.5,558.2 239.6,560.7 233.2,562.4 226.2,563.4 221.2,563.7 216.2,563.6 210.7,563.3 205.2,562.8 199.7,562.0 194.7,561.0 183.2,558.1 170.7,554.0 160.2,549.7 155.2,547.3 150.3,544.7 141.2,539.0 136.2,535.3 131.2,531.4 121.2,522.4 116.2,517.5 112.2,513.2 108.3,508.7 104.9,504.2 101.4,499.2 98.5,494.7 96.0,490.2 93.9,485.7 92.3,481.7 91.0,477.7 90.2,473.7 89.6,469.2 89.4,465.2 89.6,461.2 90.1,457.2 90.9,453.2 92.1,449.2 93.6,445.2 95.5,441.2 97.9,436.7 101.0,431.7 104.1,427.2 107.5,422.7 111.2,418.3 115.2,414.0 119.7,409.4 129.7,400.3 138.0,393.7 146.2,388.1 154.9,383.2 164.2,378.9 175.7,374.7 188.7,370.8 199.2,368.5 209.3,367.2ZM210.2,372.7 200.2,374.1 189.2,376.5 179.2,379.6 169.2,383.4 158.7,388.3 149.7,393.4 140.7,399.3 131.7,406.3 123.7,413.4 116.2,421.2 109.2,429.7 106.7,433.2 104.5,436.7 102.7,440.2 100.9,444.2 99.4,448.2 98.4,451.7 97.5,455.7 96.9,459.7 96.6,463.7 96.6,467.2 96.9,470.7 97.5,474.7 98.4,478.7 99.6,482.7 101.1,486.7 102.7,490.2 104.5,493.7 106.7,497.2 109.6,501.2 112.8,505.2 120.9,514.2 128.8,521.7 137.7,528.9 147.2,535.5 155.7,540.5 165.7,545.5 176.7,550.0 187.7,553.5 199.2,556.1 204.7,557.1 209.7,557.7 214.2,557.9 218.2,557.9 225.7,557.1 232.7,555.6 238.7,553.5 244.7,550.5 250.2,546.8 255.2,542.4 259.9,537.2 264.2,531.2 267.7,524.7 271.0,516.7 274.3,506.7 276.7,497.2 278.5,487.7 279.6,478.2 280.2,468.7 280.1,458.7 279.3,449.2 277.9,439.2 276.0,430.2 273.6,421.2 270.5,412.2 267.2,404.7 263.8,398.7 259.7,393.0 254.7,387.5 249.7,383.3 244.7,379.9 238.7,376.9 235.2,375.6 231.7,374.6 224.7,373.1 217.7,372.5 210.2,372.7ZM195.6,447.2 198.7,446.8 201.2,446.9 203.7,447.5 205.9,448.7 207.7,450.4 209.3,452.7 210.5,455.7 211.2,458.7 211.7,463.2 211.6,468.2 211.2,472.2 210.2,475.7 208.7,478.7 206.7,481.1 204.2,482.7 201.7,483.5 198.2,483.6 194.2,482.8 189.7,481.0 184.7,478.1 181.2,475.6 178.4,472.7 176.6,469.7 175.6,466.7 175.6,464.2 176.3,461.2 178.0,458.2 180.2,455.8 183.3,453.2 187.7,450.5 191.7,448.5 195.6,447.2Z" fill="#4f2a77" stroke="#4f2a77" stroke-width="0.4" fill-rule="evenodd"/>
<path d="M210.0,372.7 217.2,372.5 224.7,373.1 231.7,374.6 235.2,375.6 238.7,376.9 244.7,379.9 249.7,383.3 254.7,387.5 259.7,393.0 263.8,398.7 267.2,404.7 270.5,412.2 273.6,421.2 276.0,430.2 277.9,439.2 279.3,449.2 280.1,458.7 280.2,468.2 279.7,477.7 278.5,487.7 276.8,496.7 274.5,506.2 271.2,516.2 267.9,524.2 264.5,530.7 260.3,536.7 255.7,541.9 250.7,546.4 247.7,548.6 244.7,550.5 238.7,553.5 232.7,555.6 225.7,557.1 218.7,557.9 214.7,558.0 210.7,557.8 206.2,557.3 200.7,556.4 189.2,553.9 178.2,550.5 167.7,546.4 157.7,541.6 148.2,536.1 138.7,529.6 129.7,522.5 121.7,515.0 113.6,506.2 110.2,502.0 107.2,497.9 104.8,494.2 102.9,490.7 101.3,487.2 99.8,483.2 98.5,479.2 97.6,475.2 97.0,471.2 96.7,467.7 96.6,464.2 96.8,460.2 97.4,456.2 98.3,452.2 99.4,448.2 100.9,444.2 102.4,440.7 104.3,437.2 106.4,433.7 108.8,430.2 115.3,422.2 122.9,414.2 131.2,406.7 139.7,400.0 148.7,394.0 157.7,388.8 168.2,383.8 178.2,379.9 188.7,376.7 200.2,374.1 210.0,372.7ZM209.7,378.2 200.2,379.3 189.2,381.5 178.7,384.1 169.4,387.2 161.2,390.7 153.7,394.7 146.7,399.2 139.6,404.7 135.6,408.2 131.4,412.2 122.0,422.2 115.1,430.7 111.9,435.2 109.4,439.2 107.2,443.2 105.6,446.7 104.2,450.2 103.2,453.7 102.4,457.2 101.9,460.7 101.7,464.2 101.8,468.2 102.2,471.9 102.9,475.7 103.9,479.2 105.2,482.7 106.7,486.2 108.8,490.2 113.6,497.7 117.0,502.2 120.7,506.7 130.4,517.2 138.4,524.7 142.7,528.2 146.7,531.2 154.2,536.0 162.2,540.1 170.7,543.7 179.2,546.4 191.2,549.4 202.2,551.4 212.2,552.4 216.7,552.5 220.7,552.4 226.7,551.7 232.7,550.2 238.2,548.1 243.2,545.4 247.7,542.2 252.2,538.1 256.2,533.3 259.7,528.1 263.6,520.7 267.2,512.2 270.9,501.2 273.7,491.3 275.5,482.7 276.6,474.7 277.0,466.7 276.8,458.7 275.9,450.2 274.3,441.7 271.8,432.2 268.5,421.7 265.2,413.3 261.9,406.2 258.2,399.9 254.3,394.7 250.2,390.3 245.7,386.6 240.7,383.5 235.2,381.0 229.7,379.4 223.7,378.3 217.2,377.9 209.7,378.2ZM203.7,431.2 206.2,431.0 208.2,431.1 210.2,431.4 212.2,432.1 214.2,433.1 215.7,434.2 217.3,435.7 218.7,437.5 220.3,440.7 221.5,444.7 223.7,456.3 224.4,462.7 224.4,468.2 223.7,474.1 221.5,485.7 220.7,488.7 219.9,490.7 218.8,492.7 217.7,494.2 216.3,495.7 214.7,497.0 213.2,497.9 211.2,498.7 209.2,499.2 207.2,499.4 204.2,499.3 201.2,498.7 191.2,495.3 183.6,492.2 180.7,490.7 177.6,488.7 173.6,485.7 167.6,480.7 164.2,477.7 161.8,475.2 160.2,473.0 159.0,470.7 158.2,468.2 157.9,465.7 158.0,463.2 158.6,460.7 159.7,458.2 161.4,455.7 163.2,453.7 165.3,451.7 175.5,443.2 180.7,439.7 185.8,437.2 198.2,432.7 201.2,431.7 203.7,431.2ZM195.7,447.2 192.2,448.3 188.2,450.2 183.7,452.9 180.2,455.8 178.0,458.2 176.3,461.2 175.6,464.2 175.6,466.7 176.6,469.7 178.4,472.7 181.2,475.6 184.7,478.1 189.7,481.0 194.2,482.8 198.2,483.6 201.7,483.5 204.2,482.7 206.7,481.1 208.7,478.7 210.2,475.7 211.2,472.2 211.6,468.2 211.7,463.2 211.2,458.7 210.5,455.7 209.3,452.7 207.7,450.4 205.9,448.7 203.7,447.5 201.2,446.9 198.7,446.8 195.7,447.2Z" fill="#46518a" stroke="#46518a" stroke-width="0.4" fill-rule="evenodd"/>
<path d="M209.2,378.2 216.7,377.9 223.2,378.2 229.2,379.2 234.7,380.9 240.2,383.3 245.2,386.3 250.1,390.2 254.2,394.5 258.0,399.7 261.7,405.9 265.2,413.2 268.3,421.2 271.8,432.2 274.2,441.2 275.8,449.7 276.8,458.2 277.0,466.2 276.6,474.2 275.5,482.7 273.7,491.2 270.9,501.2 267.2,512.2 263.6,520.7 259.7,528.1 256.2,533.3 252.2,538.1 247.7,542.2 243.2,545.4 238.2,548.1 232.7,550.2 226.7,551.7 220.7,552.4 216.7,552.5 212.2,552.4 202.2,551.4 191.2,549.4 179.2,546.4 170.7,543.7 162.2,540.1 154.2,536.0 146.7,531.2 142.7,528.2 138.4,524.7 130.4,517.2 120.7,506.7 117.0,502.2 113.6,497.7 108.8,490.2 106.7,486.2 105.2,482.7 103.9,479.2 102.9,475.7 102.2,471.9 101.8,468.2 101.7,464.2 101.9,460.7 102.4,457.2 103.2,453.7 104.2,450.2 105.6,446.7 107.2,443.2 109.4,439.2 111.9,435.2 115.1,430.7 122.0,422.2 131.4,412.2 135.6,408.2 139.6,404.7 146.7,399.2 153.7,394.7 161.2,390.7 169.4,387.2 178.7,384.1 188.7,381.6 199.7,379.4 209.2,378.2ZM207.2,383.7 197.7,384.4 187.7,385.8 178.7,387.7 170.7,390.1 163.2,393.1 156.2,396.6 149.7,400.7 143.3,405.7 139.4,409.2 135.8,412.7 128.8,420.7 121.7,430.2 115.7,439.7 111.9,447.2 110.5,450.7 109.4,454.2 108.5,457.7 108.0,461.2 107.8,464.7 107.9,467.7 108.3,471.2 109.0,474.7 110.0,478.2 111.4,482.2 113.2,486.1 115.1,489.7 120.7,498.7 127.6,508.2 134.9,516.7 138.3,520.2 142.1,523.7 149.0,529.2 155.7,533.5 163.2,537.3 170.7,540.3 178.7,542.7 188.2,544.7 198.7,546.1 209.2,546.8 218.2,546.7 224.2,546.0 229.7,544.7 234.7,543.0 239.2,540.7 243.7,537.6 247.7,534.0 251.7,529.4 255.2,524.4 259.2,517.5 263.7,508.2 267.6,498.7 270.4,490.2 272.4,482.2 273.6,474.7 274.1,467.2 273.9,459.7 273.1,452.2 271.6,444.7 269.2,436.4 266.2,428.1 262.2,418.9 257.7,410.2 253.7,403.8 249.7,398.6 245.7,394.5 241.7,391.3 237.2,388.6 232.2,386.5 227.2,385.0 221.2,384.0 214.7,383.6 207.2,383.7ZM204.4,419.7 207.2,419.4 210.2,419.3 212.7,419.4 215.2,419.8 217.2,420.3 219.2,421.1 221.1,422.2 222.7,423.4 224.5,425.2 226.2,427.3 227.7,429.7 229.2,432.6 230.9,437.2 231.5,440.2 231.9,443.2 232.0,449.2 232.0,483.7 231.7,488.7 230.7,493.8 229.5,497.2 227.7,500.7 225.7,503.8 223.2,506.5 220.7,508.4 218.2,509.7 215.2,510.6 212.2,511.0 208.2,511.1 204.2,510.7 200.3,509.7 196.2,508.1 191.7,505.7 177.7,497.7 158.2,486.2 155.5,484.2 153.2,482.2 151.2,480.0 149.5,477.7 147.7,474.7 146.5,472.2 145.5,469.2 145.1,466.7 145.0,464.2 145.4,461.7 146.1,459.2 147.4,456.2 149.2,453.2 151.2,450.4 153.2,448.2 156.1,445.7 158.7,443.9 162.2,441.7 193.5,423.7 198.9,421.2 201.7,420.3 204.4,419.7ZM204.2,431.1 201.7,431.6 198.7,432.5 186.2,437.0 180.7,439.7 175.5,443.2 165.3,451.7 163.2,453.7 161.4,455.7 159.7,458.2 158.6,460.7 158.0,463.2 157.9,465.7 158.2,468.2 159.0,470.7 160.2,473.0 161.8,475.2 164.2,477.7 167.6,480.7 173.6,485.7 177.6,488.7 180.7,490.7 183.6,492.2 191.2,495.3 201.2,498.7 204.2,499.3 207.2,499.4 209.2,499.2 211.2,498.7 213.2,497.9 214.7,497.0 216.3,495.7 217.7,494.2 219.7,491.1 220.7,488.7 221.4,486.2 223.5,475.2 224.4,468.7 224.5,463.2 223.8,456.7 221.6,445.2 220.5,441.2 218.8,437.7 217.7,436.2 216.2,434.6 214.7,433.4 212.7,432.3 210.7,431.6 208.7,431.1 206.7,431.0 204.2,431.1Z" fill="#3a768a" stroke="#3a768a" stroke-width="0.4" fill-rule="evenodd"/>
<path d="M207.0,383.7 214.2,383.6 220.7,384.0 226.2,384.8 231.7,386.3 236.7,388.3 241.2,390.9 245.4,394.2 249.4,398.2 253.7,403.8 257.7,410.2 262.2,418.9 266.2,428.1 269.2,436.4 271.6,444.7 273.1,452.2 273.9,459.7 274.1,467.2 273.6,474.7 272.4,482.2 270.4,490.2 267.6,498.7 263.7,508.2 259.2,517.5 255.2,524.4 251.7,529.4 247.7,534.0 243.7,537.6 239.2,540.7 234.7,543.0 229.7,544.7 224.2,546.0 218.2,546.7 209.2,546.8 198.7,546.1 188.2,544.7 178.7,542.7 170.7,540.3 163.2,537.3 155.7,533.5 149.0,529.2 142.1,523.7 138.3,520.2 134.9,516.7 127.6,508.2 120.7,498.7 115.1,489.7 113.2,486.1 111.4,482.2 110.0,478.2 109.0,474.7 108.3,471.2 107.9,467.7 107.8,464.7 108.0,461.2 108.5,457.7 109.4,454.2 110.5,450.7 111.9,447.2 115.7,439.7 121.7,430.2 128.8,420.7 135.8,412.7 139.4,409.2 143.3,405.7 149.7,400.7 156.2,396.6 163.2,393.1 170.7,390.1 178.7,387.7 187.7,385.8 197.2,384.5 207.0,383.7ZM191.2,389.7 183.7,390.3 176.7,391.6 169.7,393.5 162.7,396.3 156.7,399.4 150.7,403.4 145.2,407.9 139.9,413.2 137.0,416.7 134.3,420.2 129.8,427.2 124.8,436.7 120.0,447.7 117.6,454.7 116.5,460.7 116.2,463.7 116.2,466.7 117.0,472.7 117.8,476.2 119.0,480.2 122.9,489.7 127.9,499.7 130.4,504.2 133.0,508.2 137.8,514.7 143.2,520.6 148.7,525.5 155.2,530.1 161.7,533.6 168.7,536.5 175.7,538.6 183.7,540.1 192.2,540.7 201.2,540.7 212.2,539.8 221.2,538.5 227.2,536.9 232.7,534.7 237.2,532.0 241.7,528.4 246.2,523.7 251.2,517.4 256.7,509.5 261.4,501.7 264.5,495.7 266.9,489.7 269.0,483.2 270.4,476.7 271.2,470.7 271.4,464.2 271.0,457.7 270.0,451.2 268.4,445.2 266.0,438.2 263.0,431.7 259.4,425.2 254.2,417.2 248.2,409.1 243.7,403.9 239.2,399.8 235.4,397.2 231.2,395.0 226.7,393.3 221.7,392.0 214.7,390.9 206.2,390.0 198.2,389.6 191.2,389.7ZM212.1,410.2 214.7,409.9 217.2,409.8 219.7,410.0 222.2,410.5 224.2,411.2 226.2,412.2 228.2,413.7 229.8,415.2 231.2,417.0 232.7,419.4 233.8,421.7 235.0,424.7 237.1,432.7 237.8,436.2 238.1,439.7 237.8,465.2 238.2,489.7 237.7,494.7 236.6,500.2 235.1,505.2 233.6,509.2 231.7,512.7 229.7,515.3 227.2,517.5 224.7,519.0 221.7,520.0 217.7,520.6 213.2,520.4 208.2,519.4 202.2,517.7 197.0,515.7 192.7,513.4 186.0,509.2 173.7,502.0 151.7,489.7 148.3,487.2 144.9,484.2 141.0,480.2 138.2,476.9 136.4,474.2 135.0,471.2 134.1,468.2 133.8,465.7 133.9,463.2 134.6,460.2 135.9,457.2 137.7,454.2 140.1,451.2 143.4,447.7 147.1,444.2 150.3,441.7 155.1,438.7 161.2,435.5 174.2,428.1 186.0,421.2 192.2,417.3 196.0,415.2 199.2,413.8 203.2,412.4 207.7,411.1 212.1,410.2ZM204.7,419.7 202.1,420.2 199.2,421.1 193.7,423.6 162.2,441.7 158.7,443.9 156.1,445.7 153.2,448.2 151.2,450.4 149.2,453.2 147.4,456.2 146.1,459.2 145.4,461.7 145.0,464.2 145.1,466.7 145.5,469.2 146.5,472.2 147.7,474.7 149.5,477.7 151.2,480.0 153.2,482.2 155.5,484.2 158.2,486.2 177.7,497.7 191.7,505.7 196.2,508.1 200.3,509.7 204.2,510.7 208.2,511.1 212.2,511.0 215.2,510.6 218.2,509.7 220.7,508.4 223.2,506.5 225.7,503.8 227.7,500.7 229.5,497.2 230.7,493.8 231.7,488.7 232.0,483.7 232.0,449.2 231.9,443.2 231.5,440.2 230.9,437.2 229.2,432.6 227.7,429.7 226.2,427.3 224.5,425.2 222.7,423.4 221.1,422.2 219.2,421.1 217.2,420.3 215.2,419.8 212.7,419.4 210.2,419.3 204.7,419.7Z" fill="#41a68a" stroke="#41a68a" stroke-width="0.4" fill-rule="evenodd"/>
<path d="M191.1,389.7 198.2,389.6 206.2,390.0 214.7,390.9 221.7,392.0 226.7,393.3 231.2,395.0 235.4,397.2 239.2,399.8 243.7,403.9 248.2,409.1 254.2,417.2 259.4,425.2 263.0,431.7 266.0,438.2 268.4,445.2 270.0,451.2 271.0,457.7 271.4,464.2 271.2,470.7 270.4,476.7 269.0,483.2 266.9,489.7 264.5,495.7 261.4,501.7 256.7,509.5 251.2,517.4 246.2,523.7 241.7,528.4 237.2,532.0 232.7,534.7 227.2,536.9 221.2,538.5 212.2,539.8 201.2,540.7 192.2,540.7 183.7,540.1 175.7,538.6 168.7,536.5 161.7,533.6 155.2,530.1 148.7,525.5 143.2,520.6 137.8,514.7 133.0,508.2 130.4,504.2 127.9,499.7 122.9,489.7 119.0,480.2 117.8,476.2 117.0,472.7 116.2,466.7 116.2,463.7 116.5,460.7 117.6,454.7 120.0,447.7 124.8,436.7 129.8,427.2 134.3,420.2 137.0,416.7 139.9,413.2 145.2,407.9 150.7,403.4 156.7,399.4 162.7,396.3 169.7,393.5 176.7,391.6 183.7,390.3 191.1,389.7ZM212.2,410.2 207.7,411.1 203.2,412.4 199.2,413.8 196.0,415.2 192.2,417.3 186.0,421.2 174.2,428.1 161.2,435.5 155.1,438.7 150.3,441.7 147.1,444.2 143.4,447.7 140.1,451.2 137.7,454.2 135.9,457.2 134.6,460.2 133.9,463.2 133.8,465.7 134.1,468.2 135.0,471.2 136.4,474.2 138.2,476.9 141.0,480.2 144.9,484.2 148.3,487.2 151.7,489.7 173.7,502.0 186.0,509.2 192.7,513.4 197.0,515.7 202.2,517.7 208.2,519.4 213.2,520.4 217.7,520.6 221.7,520.0 224.7,519.0 227.2,517.5 229.7,515.3 231.7,512.7 233.6,509.2 235.1,505.2 236.6,500.2 237.7,494.7 238.2,489.7 237.8,465.2 238.1,439.7 237.8,436.2 237.1,432.7 235.0,424.7 233.8,421.7 232.7,419.4 231.2,417.0 229.8,415.2 228.2,413.7 226.2,412.2 224.2,411.2 222.2,410.5 219.7,410.0 217.2,409.8 214.7,409.9 212.2,410.2Z" fill="#7bd05a" stroke="#7bd05a" stroke-width="0.4" fill-rule="evenodd"/>
<path d="M241.8,465.2 241.8,463.3 241.8,461.4 241.9,459.5 241.9,457.6 242.0,455.7 242.1,453.7 242.1,451.8 242.2,449.9 242.3,448.0 242.3,446.0 242.4,444.1 242.5,442.2 242.6,440.2 242.8,438.4 242.9,436.5 243.1,434.6 243.4,432.8 243.8,430.9 244.4,429.0 245.1,427.0 246.1,425.2 247.5,423.9 249.2,423.5 251.1,423.9 252.9,424.9 254.5,426.1 255.7,427.5 256.9,429.1 257.9,430.7 258.8,432.3 259.8,434.0 260.7,435.7 261.6,437.4 262.4,439.1 263.2,440.9 263.9,442.7 264.5,444.5 265.1,446.3 265.6,448.1 266.1,450.0 266.5,451.9 266.9,453.8 267.2,455.7 267.4,457.6 267.6,459.5 267.8,461.4 267.9,463.3 267.9,465.2 267.9,467.1 267.8,469.0 267.6,470.9 267.4,472.8 267.2,474.7 266.9,476.6 266.5,478.5 266.1,480.4 265.6,482.3 265.1,484.1 264.5,485.9 263.9,487.7 263.2,489.5 262.4,491.3 261.6,493.0 260.7,494.7 259.8,496.4 258.8,498.1 257.9,499.7 256.9,501.3 255.7,502.9 254.5,504.3 252.9,505.5 251.1,506.5 249.2,506.9 247.5,506.5 246.1,505.2 245.1,503.4 244.4,501.4 243.8,499.5 243.4,497.6 243.1,495.8 242.9,493.9 242.8,492.0 242.6,490.2 242.5,488.2 242.4,486.3 242.3,484.4 242.3,482.4 242.2,480.5 242.1,478.6 242.1,476.7 242.0,474.7 241.9,472.8 241.9,470.9 241.8,469.0 241.8,467.1ZM171.9,424.8 170.2,425.8 168.6,426.7 166.9,427.6 165.2,428.5 163.5,429.5 161.8,430.4 160.1,431.3 158.4,432.2 156.7,433.1 155.0,434.0 153.3,434.9 151.6,435.7 149.9,436.6 148.2,437.4 146.5,438.2 144.8,439.0 143.0,439.6 141.2,440.2 139.3,440.7 137.2,441.1 135.1,441.1 133.3,440.6 132.1,439.3 131.5,437.5 131.4,435.4 131.7,433.4 132.3,431.6 133.1,429.9 134.0,428.2 134.9,426.5 135.9,424.9 136.9,423.2 137.9,421.6 139.0,420.0 140.2,418.5 141.4,417.0 142.6,415.5 143.9,414.1 145.2,412.7 146.6,411.4 148.0,410.1 149.5,408.9 151.0,407.7 152.5,406.5 154.0,405.4 155.6,404.3 157.2,403.2 158.8,402.2 160.5,401.3 162.2,400.4 164.0,399.6 165.7,398.8 167.5,398.1 169.3,397.4 171.1,396.8 172.9,396.2 174.8,395.7 176.6,395.2 178.5,394.8 180.4,394.5 182.3,394.2 184.2,394.0 186.1,393.8 188.0,393.7 189.9,393.7 191.8,393.7 193.7,393.7 195.7,393.8 197.6,393.9 199.4,394.3 201.3,395.1 203.0,396.2 204.3,397.6 204.8,399.3 204.4,401.1 203.3,402.9 202.0,404.5 200.6,406.0 199.1,407.2 197.7,408.4 196.2,409.5 194.7,410.6 193.1,411.6 191.5,412.7 189.9,413.7 188.2,414.8 186.6,415.8 185.0,416.8 183.3,417.9 181.7,418.9 180.1,419.9 178.4,420.9 176.8,421.9 175.2,422.9 173.5,423.9ZM171.9,505.6 173.5,506.5 175.2,507.5 176.8,508.5 178.4,509.5 180.1,510.5 181.7,511.5 183.3,512.5 185.0,513.6 186.6,514.6 188.2,515.6 189.9,516.7 191.5,517.7 193.1,518.8 194.7,519.8 196.2,520.9 197.7,522.0 199.1,523.2 200.6,524.4 202.0,525.9 203.3,527.5 204.4,529.3 204.8,531.1 204.3,532.8 203.0,534.2 201.3,535.3 199.4,536.1 197.6,536.5 195.7,536.6 193.7,536.7 191.8,536.7 189.9,536.7 188.0,536.7 186.1,536.6 184.2,536.4 182.3,536.2 180.4,535.9 178.5,535.6 176.6,535.2 174.8,534.7 172.9,534.2 171.1,533.6 169.3,533.0 167.5,532.3 165.7,531.6 164.0,530.8 162.2,530.0 160.5,529.1 158.8,528.2 157.2,527.2 155.6,526.1 154.0,525.0 152.5,523.9 151.0,522.7 149.5,521.5 148.0,520.3 146.6,519.0 145.2,517.7 143.9,516.3 142.6,514.9 141.4,513.4 140.2,511.9 139.0,510.4 137.9,508.8 136.9,507.2 135.9,505.5 134.9,503.9 134.0,502.2 133.1,500.5 132.3,498.8 131.7,497.0 131.4,495.0 131.5,492.9 132.1,491.1 133.3,489.8 135.1,489.3 137.2,489.3 139.3,489.7 141.2,490.2 143.0,490.8 144.8,491.4 146.5,492.2 148.2,493.0 149.9,493.8 151.6,494.7 153.3,495.5 155.0,496.4 156.7,497.3 158.4,498.2 160.1,499.1 161.8,500.0 163.5,500.9 165.2,501.9 166.9,502.8 168.6,503.7 170.2,504.6Z" fill="#d3dc32"/>
</g>
<rect x="85.5" y="355.5" width="219.0" height="219.0" fill="none" stroke="#000" stroke-width="1.05"/>
<path d="M130.4,574.5 V579.5" stroke="#000" stroke-width="1.05"/>
<text x="130.4" y="599.8" font-family="DejaVu Sans, Liberation Sans, sans-serif" stroke="#000" stroke-width="0.3" font-size="19.5" text-anchor="middle">−0.05</text>
<path d="M80.5,529.6 H85.5" stroke="#000" stroke-width="1.05"/>
<text x="75.1" y="537.0" font-family="DejaVu Sans, Liberation Sans, sans-serif" stroke="#000" stroke-width="0.3" font-size="19.5" text-anchor="end">−0.05</text>
<path d="M195.0,574.5 V579.5" stroke="#000" stroke-width="1.05"/>
<text x="195.0" y="599.8" font-family="DejaVu Sans, Liberation Sans, sans-serif" stroke="#000" stroke-width="0.3" font-size="19.5" text-anchor="middle">0.00</text>
<path d="M80.5,465.0 H85.5" stroke="#000" stroke-width="1.05"/>
<text x="75.1" y="472.4" font-family="DejaVu Sans, Liberation Sans, sans-serif" stroke="#000" stroke-width="0.3" font-size="19.5" text-anchor="end">0.00</text>
<path d="M259.6,574.5 V579.5" stroke="#000" stroke-width="1.05"/>
<text x="259.6" y="599.8" font-family="DejaVu Sans, Liberation Sans, sans-serif" stroke="#000" stroke-width="0.3" font-size="19.5" text-anchor="middle">0.05</text>
<path d="M80.5,400.4 H85.5" stroke="#000" stroke-width="1.05"/>
<text x="75.1" y="407.8" font-family="DejaVu Sans, Liberation Sans, sans-serif" stroke="#000" stroke-width="0.3" font-size="19.5" text-anchor="end">0.05</text>
<text transform="translate(4.2,369) scale(1.04,1)" font-family="Liberation Serif, DejaVu Serif, serif" font-size="26.5" font-weight="bold">(c)</text>
<text x="174.2" y="630.6" font-family="Liberation Serif, DejaVu Serif, serif" font-size="27.5" font-style="italic">ak<tspan font-size="20" dy="4.5" dx="3">x</tspan></text>
<text transform="translate(19.6,484.3) rotate(-90)" font-family="Liberation Serif, DejaVu Serif, serif" font-size="27.5" font-style="italic">ak<tspan font-size="20" dy="4.5" dx="3">y</tspan></text>
<rect x="314.5" y="538.64" width="11.300000000000011" height="37.06" fill="#4f2a77"/>
<rect x="314.5" y="501.88" width="11.300000000000011" height="37.06" fill="#46518a"/>
<rect x="314.5" y="465.12" width="11.300000000000011" height="37.06" fill="#3a768a"/>
<rect x="314.5" y="428.37" width="11.300000000000011" height="37.06" fill="#41a68a"/>
<rect x="314.5" y="391.61" width="11.300000000000011" height="37.06" fill="#7bd05a"/>
<rect x="314.5" y="354.85" width="11.300000000000011" height="37.06" fill="#d3dc32"/>
<rect x="314.5" y="354.85" width="11.300000000000011" height="220.54999999999995" fill="none" stroke="#000" stroke-width="1.05"/>
<path d="M325.8,354.9 H330.8" stroke="#000" stroke-width="1.05"/>
<text x="334.3" y="362.7" font-family="DejaVu Sans, Liberation Sans, sans-serif" stroke="#000" stroke-width="0.3" font-size="19.5">0.0</text>
<path d="M325.8,391.6 H330.8" stroke="#000" stroke-width="1.05"/>
<text x="334.3" y="399.5" font-family="DejaVu Sans, Liberation Sans, sans-serif" stroke="#000" stroke-width="0.3" font-size="19.5">−0.5</text>
<path d="M325.8,428.4 H330.8" stroke="#000" stroke-width="1.05"/>
<text x="334.3" y="436.2" font-family="DejaVu Sans, Liberation Sans, sans-serif" stroke="#000" stroke-width="0.3" font-size="19.5">−1.0</text>
<path d="M325.8,465.1 H330.8" stroke="#000" stroke-width="1.05"/>
<text x="334.3" y="473.0" font-family="DejaVu Sans, Liberation Sans, sans-serif" stroke="#000" stroke-width="0.3" font-size="19.5">−1.5</text>
<path d="M325.8,501.9 H330.8" stroke="#000" stroke-width="1.05"/>
<text x="334.3" y="509.7" font-family="DejaVu Sans, Liberation Sans, sans-serif" stroke="#000" stroke-width="0.3" font-size="19.5">−2.0</text>
<path d="M325.8,538.6 H330.8" stroke="#000" stroke-width="1.05"/>
<text x="334.3" y="546.5" font-family="DejaVu Sans, Liberation Sans, sans-serif" stroke="#000" stroke-width="0.3" font-size="19.5">−2.5</text>
<path d="M325.8,575.4 H330.8" stroke="#000" stroke-width="1.05"/>
<text x="334.3" y="583.2" font-family="DejaVu Sans, Liberation Sans, sans-serif" stroke="#000" stroke-width="0.3" font-size="19.5">−3.0</text>
<text x="331.8" y="607.4" font-family="Liberation Serif, DejaVu Serif, serif" font-size="27.5" font-style="italic">n<tspan font-size="19.5" dy="3.6" dx="1.5" font-style="normal">e</tspan></text>
<text x="304.5" y="628.2" font-family="Liberation Serif, DejaVu Serif, serif" font-size="15.5" letter-spacing="1.4"><tspan font-size="18.5" dy="0.8">(</tspan><tspan dy="-0.8">10</tspan><tspan font-size="11" dy="-6.3">12</tspan><tspan dy="6.3">cm</tspan><tspan font-size="11" dy="-6.3">−2</tspan><tspan dy="7.1" font-size="18.5">)</tspan></text>
<rect x="423.9" y="354.5" width="219.5" height="218.79999999999995" fill="#a69aba"/>
<path d="M608.8,492.3 610.0,490.1 611.2,487.8 612.2,485.4 613.1,483.0 613.9,480.5 614.6,478.0 615.2,475.5 615.7,473.0 616.0,470.4 616.3,467.9 616.4,465.3 616.4,462.7 616.3,460.1 616.0,457.6 615.7,455.0 615.2,452.5 614.6,450.0 613.9,447.5 613.1,445.0 612.2,442.6 611.2,440.2 610.0,437.9 608.8,435.7 595.7,413.0 594.4,410.8 593.0,408.7 591.4,406.6 589.8,404.6 588.1,402.7 586.3,400.8 584.4,399.1 582.4,397.4 580.4,395.8 578.3,394.3 576.1,393.0 573.9,391.7 571.6,390.5 569.2,389.4 566.9,388.4 564.4,387.6 562.0,386.8 559.5,386.2 556.9,385.6 554.4,385.2 551.8,384.9 549.2,384.8 546.7,384.7 520.5,384.7 518.0,384.8 515.4,384.9 512.8,385.2 510.3,385.6 507.7,386.2 505.2,386.8 502.8,387.6 500.3,388.4 498.0,389.4 495.6,390.5 493.3,391.7 491.1,393.0 488.9,394.3 486.8,395.8 484.8,397.4 482.8,399.1 480.9,400.8 479.1,402.7 477.4,404.6 475.8,406.6 474.2,408.7 472.8,410.8 471.5,413.0 458.4,435.7 457.2,437.9 456.0,440.2 455.0,442.6 454.1,445.0 453.3,447.5 452.6,450.0 452.0,452.5 451.5,455.0 451.2,457.6 450.9,460.1 450.8,462.7 450.8,465.3 450.9,467.9 451.2,470.4 451.5,473.0 452.0,475.5 452.6,478.0 453.3,480.5 454.1,483.0 455.0,485.4 456.0,487.8 457.2,490.1 458.4,492.3 471.5,515.0 472.8,517.2 474.2,519.3 475.8,521.4 477.4,523.4 479.1,525.3 480.9,527.2 482.8,528.9 484.8,530.6 486.8,532.2 488.9,533.7 491.1,535.0 493.3,536.3 495.6,537.5 498.0,538.6 500.3,539.6 502.8,540.4 505.2,541.2 507.7,541.8 510.3,542.4 512.8,542.8 515.4,543.1 518.0,543.2 520.5,543.3 546.7,543.3 549.2,543.2 551.8,543.1 554.4,542.8 556.9,542.4 559.5,541.8 562.0,541.2 564.4,540.4 566.9,539.6 569.2,538.6 571.6,537.5 573.9,536.3 576.1,535.0 578.3,533.7 580.4,532.2 582.4,530.6 584.4,528.9 586.3,527.2 588.1,525.3 589.8,523.4 591.4,521.4 593.0,519.3 594.4,517.2 595.7,515.0Z" fill="#b2c3c3"/>
<path d="M609.5,464.0 609.5,462.7 609.5,461.4 609.4,460.0 609.3,458.7 609.2,457.4 609.1,456.1 609.0,454.7 608.8,453.4 608.6,452.1 608.4,450.8 608.2,449.5 608.0,448.2 607.7,446.9 607.4,445.6 607.1,444.3 606.8,443.0 606.4,441.7 606.0,440.5 605.6,439.2 605.2,437.9 604.8,436.7 604.3,435.4 603.8,434.2 603.3,433.0 602.7,431.8 602.2,430.6 601.6,429.4 601.0,428.2 600.3,427.0 599.7,425.9 599.0,424.7 598.3,423.6 597.6,422.4 596.8,421.3 596.1,420.3 595.3,419.2 594.5,418.1 593.7,417.1 592.8,416.0 592.0,415.0 591.1,414.0 590.2,413.0 589.3,412.1 588.4,411.1 587.4,410.2 586.4,409.3 585.5,408.4 584.5,407.5 583.5,406.6 582.5,405.8 581.4,405.0 580.4,404.1 579.3,403.3 578.2,402.6 577.1,401.8 576.1,401.1 574.9,400.3 573.8,399.6 572.7,398.9 571.6,398.3 570.4,397.6 569.2,397.0 568.1,396.4 566.9,395.8 565.7,395.2 564.5,394.6 563.3,394.1 562.1,393.6 560.8,393.1 559.6,392.6 558.3,392.1 557.1,391.7 555.8,391.3 554.6,390.9 553.3,390.5 552.0,390.1 550.7,389.8 549.4,389.5 548.1,389.2 546.8,389.0 545.5,388.7 544.2,388.5 542.9,388.3 541.6,388.2 540.2,388.0 538.9,387.9 537.6,387.8 536.3,387.8 534.9,387.7 533.6,387.7 532.3,387.7 530.9,387.8 529.6,387.8 528.3,387.9 527.0,388.0 525.6,388.2 524.3,388.3 523.0,388.5 521.7,388.7 520.4,389.0 519.1,389.2 517.8,389.5 516.5,389.8 515.2,390.1 513.9,390.5 512.6,390.9 511.4,391.3 510.1,391.7 508.9,392.1 507.6,392.6 506.4,393.1 505.1,393.6 503.9,394.1 502.7,394.6 501.5,395.2 500.3,395.8 499.1,396.4 498.0,397.0 496.8,397.6 495.7,398.3 494.5,398.9 493.4,399.6 492.3,400.3 491.1,401.1 490.1,401.8 489.0,402.6 487.9,403.3 486.8,404.1 485.8,405.0 484.7,405.8 483.7,406.6 482.7,407.5 481.7,408.4 480.8,409.3 479.8,410.2 478.8,411.1 477.9,412.1 477.0,413.0 476.1,414.0 475.2,415.0 474.4,416.0 473.5,417.1 472.7,418.1 471.9,419.2 471.1,420.3 470.4,421.3 469.6,422.4 468.9,423.6 468.2,424.7 467.5,425.9 466.9,427.0 466.2,428.2 465.6,429.4 465.0,430.6 464.5,431.8 463.9,433.0 463.4,434.2 462.9,435.4 462.4,436.7 462.0,437.9 461.6,439.2 461.2,440.5 460.8,441.7 460.4,443.0 460.1,444.3 459.8,445.6 459.5,446.9 459.2,448.2 459.0,449.5 458.8,450.8 458.6,452.1 458.4,453.4 458.2,454.7 458.1,456.1 458.0,457.4 457.9,458.7 457.8,460.0 457.7,461.4 457.7,462.7 457.7,464.0 457.7,465.3 457.7,466.6 457.8,468.0 457.9,469.3 458.0,470.6 458.1,471.9 458.2,473.3 458.4,474.6 458.6,475.9 458.8,477.2 459.0,478.5 459.2,479.8 459.5,481.1 459.8,482.4 460.1,483.7 460.4,485.0 460.8,486.3 461.2,487.5 461.6,488.8 462.0,490.1 462.4,491.3 462.9,492.6 463.4,493.8 463.9,495.0 464.5,496.2 465.0,497.4 465.6,498.6 466.2,499.8 466.9,501.0 467.5,502.1 468.2,503.3 468.9,504.4 469.6,505.6 470.4,506.7 471.1,507.7 471.9,508.8 472.7,509.9 473.5,510.9 474.4,512.0 475.2,513.0 476.1,514.0 477.0,515.0 477.9,515.9 478.8,516.9 479.8,517.8 480.8,518.7 481.7,519.6 482.7,520.5 483.7,521.4 484.7,522.2 485.8,523.0 486.8,523.9 487.9,524.7 489.0,525.4 490.1,526.2 491.1,526.9 492.3,527.7 493.4,528.4 494.5,529.1 495.6,529.7 496.8,530.4 498.0,531.0 499.1,531.6 500.3,532.2 501.5,532.8 502.7,533.4 503.9,533.9 505.1,534.4 506.4,534.9 507.6,535.4 508.9,535.9 510.1,536.3 511.4,536.7 512.6,537.1 513.9,537.5 515.2,537.9 516.5,538.2 517.8,538.5 519.1,538.8 520.4,539.0 521.7,539.3 523.0,539.5 524.3,539.7 525.6,539.8 527.0,540.0 528.3,540.1 529.6,540.2 530.9,540.2 532.3,540.3 533.6,540.3 534.9,540.3 536.3,540.2 537.6,540.2 538.9,540.1 540.2,540.0 541.6,539.8 542.9,539.7 544.2,539.5 545.5,539.3 546.8,539.0 548.1,538.8 549.4,538.5 550.7,538.2 552.0,537.9 553.3,537.5 554.6,537.1 555.8,536.7 557.1,536.3 558.3,535.9 559.6,535.4 560.8,534.9 562.1,534.4 563.3,533.9 564.5,533.4 565.7,532.8 566.9,532.2 568.1,531.6 569.2,531.0 570.4,530.4 571.6,529.7 572.7,529.1 573.8,528.4 574.9,527.7 576.1,526.9 577.1,526.2 578.2,525.4 579.3,524.7 580.4,523.9 581.4,523.0 582.5,522.2 583.5,521.4 584.5,520.5 585.5,519.6 586.4,518.7 587.4,517.8 588.4,516.9 589.3,515.9 590.2,515.0 591.1,514.0 592.0,513.0 592.8,512.0 593.7,510.9 594.5,509.9 595.3,508.8 596.1,507.7 596.8,506.7 597.6,505.6 598.3,504.4 599.0,503.3 599.7,502.2 600.3,501.0 601.0,499.8 601.6,498.6 602.2,497.4 602.7,496.2 603.3,495.0 603.8,493.8 604.3,492.6 604.8,491.3 605.2,490.1 605.6,488.8 606.0,487.5 606.4,486.3 606.8,485.0 607.1,483.7 607.4,482.4 607.7,481.1 608.0,479.8 608.2,478.5 608.4,477.2 608.6,475.9 608.8,474.6 609.0,473.3 609.1,471.9 609.2,470.6 609.3,469.3 609.4,468.0 609.5,466.6 609.5,465.3Z" fill="#cdd9ae"/>
<path d="M567.9,473.4 568.3,472.7 568.7,471.9 569.0,471.1 569.3,470.3 569.6,469.5 569.8,468.7 570.0,467.8 570.2,467.0 570.3,466.1 570.4,465.3 570.4,464.4 570.4,463.6 570.4,462.7 570.3,461.9 570.2,461.0 570.0,460.2 569.8,459.3 569.6,458.5 569.3,457.7 569.0,456.9 568.7,456.1 568.3,455.3 567.9,454.6 558.9,439.0 558.5,438.3 558.0,437.6 557.5,436.9 556.9,436.2 556.4,435.6 555.8,435.0 555.1,434.4 554.5,433.8 553.8,433.3 553.1,432.8 552.4,432.3 551.6,431.9 550.9,431.5 550.1,431.2 549.3,430.8 548.5,430.6 547.7,430.3 546.8,430.1 546.0,429.9 545.1,429.8 544.3,429.7 543.4,429.6 542.6,429.6 524.6,429.6 523.8,429.6 522.9,429.7 522.1,429.8 521.2,429.9 520.4,430.1 519.5,430.3 518.7,430.6 517.9,430.8 517.1,431.2 516.3,431.5 515.6,431.9 514.8,432.3 514.1,432.8 513.4,433.3 512.7,433.8 512.1,434.4 511.4,435.0 510.8,435.6 510.3,436.2 509.7,436.9 509.2,437.6 508.7,438.3 508.3,439.0 499.3,454.6 498.9,455.3 498.5,456.1 498.2,456.9 497.9,457.7 497.6,458.5 497.4,459.3 497.2,460.2 497.0,461.0 496.9,461.9 496.8,462.7 496.8,463.6 496.8,464.4 496.8,465.3 496.9,466.1 497.0,467.0 497.2,467.8 497.4,468.7 497.6,469.5 497.9,470.3 498.2,471.1 498.5,471.9 498.9,472.7 499.3,473.4 508.3,489.0 508.7,489.7 509.2,490.4 509.7,491.1 510.3,491.8 510.8,492.4 511.4,493.0 512.1,493.6 512.7,494.2 513.4,494.7 514.1,495.2 514.8,495.7 515.6,496.1 516.3,496.5 517.1,496.8 517.9,497.2 518.7,497.4 519.5,497.7 520.4,497.9 521.2,498.1 522.1,498.2 522.9,498.3 523.8,498.4 524.6,498.4 542.6,498.4 543.4,498.4 544.3,498.3 545.1,498.2 546.0,498.1 546.8,497.9 547.7,497.7 548.5,497.4 549.3,497.2 550.1,496.8 550.9,496.5 551.6,496.1 552.4,495.7 553.1,495.2 553.8,494.7 554.5,494.2 555.1,493.6 555.8,493.0 556.4,492.4 556.9,491.8 557.5,491.1 558.0,490.4 558.5,489.7 558.9,489.0Z" fill="#b2c3c3"/>
<path d="M558.6,464.0 558.6,463.6 558.6,463.1 558.6,462.7 558.5,462.3 558.5,461.8 558.4,461.4 558.4,461.0 558.3,460.5 558.3,460.1 558.2,459.7 558.1,459.2 558.0,458.8 557.9,458.4 557.8,458.0 557.7,457.6 557.5,457.1 557.4,456.7 557.3,456.3 557.1,455.9 557.0,455.5 556.8,455.1 556.6,454.7 556.4,454.3 556.2,453.9 556.1,453.5 555.9,453.1 555.6,452.8 555.4,452.4 555.2,452.0 555.0,451.6 554.8,451.3 554.5,450.9 554.3,450.6 554.0,450.2 553.8,449.9 553.5,449.5 553.2,449.2 553.0,448.9 552.7,448.5 552.4,448.2 552.1,447.9 551.8,447.6 551.5,447.3 551.2,447.0 550.9,446.7 550.6,446.4 550.3,446.1 550.0,445.8 549.6,445.5 549.3,445.3 549.0,445.0 548.6,444.8 548.3,444.5 548.0,444.2 547.6,444.0 547.2,443.8 546.9,443.5 546.5,443.3 546.2,443.1 545.8,442.9 545.4,442.7 545.1,442.5 544.7,442.3 544.3,442.1 543.9,441.9 543.5,441.7 543.1,441.5 542.8,441.4 542.4,441.2 542.0,441.0 541.6,440.9 541.2,440.7 540.8,440.6 540.3,440.5 539.9,440.3 539.5,440.2 539.1,440.1 538.7,440.0 538.3,439.9 537.9,439.8 537.4,439.7 537.0,439.7 536.6,439.6 536.2,439.5 535.7,439.5 535.3,439.4 534.9,439.4 534.5,439.3 534.0,439.3 533.6,439.3 533.2,439.3 532.7,439.3 532.3,439.3 531.9,439.3 531.4,439.3 531.0,439.3 530.6,439.4 530.1,439.4 529.7,439.5 529.3,439.5 528.9,439.6 528.4,439.7 528.0,439.7 527.6,439.8 527.2,439.9 526.7,440.0 526.3,440.2 525.9,440.3 525.5,440.4 525.1,440.5 524.7,440.7 524.2,440.8 523.8,441.0 523.4,441.2 523.0,441.4 522.6,441.5 522.3,441.7 521.9,441.9 521.5,442.1 521.1,442.3 520.7,442.6 520.4,442.8 520.0,443.0 519.6,443.3 519.3,443.5 518.9,443.8 518.6,444.1 518.2,444.3 517.9,444.6 517.6,444.9 517.2,445.2 516.9,445.5 516.6,445.8 516.3,446.1 516.0,446.4 515.7,446.7 515.4,447.0 515.1,447.4 514.8,447.7 514.6,448.0 514.3,448.4 514.0,448.7 513.8,449.1 513.5,449.4 513.3,449.8 513.1,450.2 512.8,450.5 512.6,450.9 512.4,451.3 512.2,451.6 512.0,452.0 511.8,452.4 511.6,452.8 511.5,453.2 511.3,453.6 511.1,454.0 511.0,454.4 510.8,454.8 510.7,455.2 510.5,455.6 510.4,456.0 510.3,456.4 510.2,456.8 510.0,457.2 509.9,457.7 509.9,458.1 509.8,458.5 509.7,458.9 509.6,459.3 509.5,459.8 509.5,460.2 509.4,460.6 509.4,461.0 509.3,461.4 509.3,461.9 509.3,462.3 509.2,462.7 509.2,463.1 509.2,463.6 509.2,464.0 509.2,464.4 509.2,464.9 509.2,465.3 509.3,465.7 509.3,466.1 509.3,466.6 509.4,467.0 509.4,467.4 509.5,467.8 509.5,468.2 509.6,468.7 509.7,469.1 509.8,469.5 509.9,469.9 509.9,470.3 510.0,470.8 510.2,471.2 510.3,471.6 510.4,472.0 510.5,472.4 510.7,472.8 510.8,473.2 511.0,473.6 511.1,474.0 511.3,474.4 511.5,474.8 511.6,475.2 511.8,475.6 512.0,476.0 512.2,476.4 512.4,476.7 512.6,477.1 512.8,477.5 513.1,477.8 513.3,478.2 513.5,478.6 513.8,478.9 514.0,479.3 514.3,479.6 514.6,480.0 514.8,480.3 515.1,480.6 515.4,481.0 515.7,481.3 516.0,481.6 516.3,481.9 516.6,482.2 516.9,482.5 517.2,482.8 517.6,483.1 517.9,483.4 518.2,483.7 518.6,483.9 518.9,484.2 519.3,484.5 519.6,484.7 520.0,485.0 520.4,485.2 520.7,485.4 521.1,485.7 521.5,485.9 521.9,486.1 522.3,486.3 522.6,486.5 523.0,486.6 523.4,486.8 523.8,487.0 524.2,487.2 524.7,487.3 525.1,487.5 525.5,487.6 525.9,487.7 526.3,487.8 526.7,488.0 527.2,488.1 527.6,488.2 528.0,488.3 528.4,488.3 528.9,488.4 529.3,488.5 529.7,488.5 530.1,488.6 530.6,488.6 531.0,488.7 531.4,488.7 531.9,488.7 532.3,488.7 532.7,488.7 533.2,488.7 533.6,488.7 534.0,488.7 534.5,488.7 534.9,488.6 535.3,488.6 535.7,488.5 536.2,488.5 536.6,488.4 537.0,488.3 537.4,488.3 537.9,488.2 538.3,488.1 538.7,488.0 539.1,487.9 539.5,487.8 539.9,487.7 540.3,487.5 540.8,487.4 541.2,487.3 541.6,487.1 542.0,487.0 542.4,486.8 542.8,486.6 543.1,486.5 543.5,486.3 543.9,486.1 544.3,485.9 544.7,485.7 545.1,485.5 545.4,485.3 545.8,485.1 546.2,484.9 546.5,484.7 546.9,484.5 547.2,484.2 547.6,484.0 548.0,483.8 548.3,483.5 548.6,483.2 549.0,483.0 549.3,482.7 549.6,482.5 550.0,482.2 550.3,481.9 550.6,481.6 550.9,481.3 551.2,481.0 551.5,480.7 551.8,480.4 552.1,480.1 552.4,479.8 552.7,479.5 553.0,479.1 553.2,478.8 553.5,478.5 553.8,478.1 554.0,477.8 554.3,477.4 554.5,477.1 554.8,476.7 555.0,476.4 555.2,476.0 555.4,475.6 555.6,475.2 555.9,474.9 556.1,474.5 556.2,474.1 556.4,473.7 556.6,473.3 556.8,472.9 557.0,472.5 557.1,472.1 557.3,471.7 557.4,471.3 557.5,470.9 557.7,470.4 557.8,470.0 557.9,469.6 558.0,469.2 558.1,468.8 558.2,468.3 558.3,467.9 558.3,467.5 558.4,467.0 558.4,466.6 558.5,466.2 558.5,465.7 558.6,465.3 558.6,464.9 558.6,464.4Z" fill="#a69aba"/>
<path d="M608.8,492.3 610.0,490.1 611.2,487.8 612.2,485.4 613.1,483.0 613.9,480.5 614.6,478.0 615.2,475.5 615.7,473.0 616.0,470.4 616.3,467.9 616.4,465.3 616.4,462.7 616.3,460.1 616.0,457.6 615.7,455.0 615.2,452.5 614.6,450.0 613.9,447.5 613.1,445.0 612.2,442.6 611.2,440.2 610.0,437.9 608.8,435.7 595.7,413.0 594.4,410.8 593.0,408.7 591.4,406.6 589.8,404.6 588.1,402.7 586.3,400.8 584.4,399.1 582.4,397.4 580.4,395.8 578.3,394.3 576.1,393.0 573.9,391.7 571.6,390.5 569.2,389.4 566.9,388.4 564.4,387.6 562.0,386.8 559.5,386.2 556.9,385.6 554.4,385.2 551.8,384.9 549.2,384.8 546.7,384.7 520.5,384.7 518.0,384.8 515.4,384.9 512.8,385.2 510.3,385.6 507.7,386.2 505.2,386.8 502.8,387.6 500.3,388.4 498.0,389.4 495.6,390.5 493.3,391.7 491.1,393.0 488.9,394.3 486.8,395.8 484.8,397.4 482.8,399.1 480.9,400.8 479.1,402.7 477.4,404.6 475.8,406.6 474.2,408.7 472.8,410.8 471.5,413.0 458.4,435.7 457.2,437.9 456.0,440.2 455.0,442.6 454.1,445.0 453.3,447.5 452.6,450.0 452.0,452.5 451.5,455.0 451.2,457.6 450.9,460.1 450.8,462.7 450.8,465.3 450.9,467.9 451.2,470.4 451.5,473.0 452.0,475.5 452.6,478.0 453.3,480.5 454.1,483.0 455.0,485.4 456.0,487.8 457.2,490.1 458.4,492.3 471.5,515.0 472.8,517.2 474.2,519.3 475.8,521.4 477.4,523.4 479.1,525.3 480.9,527.2 482.8,528.9 484.8,530.6 486.8,532.2 488.9,533.7 491.1,535.0 493.3,536.3 495.6,537.5 498.0,538.6 500.3,539.6 502.8,540.4 505.2,541.2 507.7,541.8 510.3,542.4 512.8,542.8 515.4,543.1 518.0,543.2 520.5,543.3 546.7,543.3 549.2,543.2 551.8,543.1 554.4,542.8 556.9,542.4 559.5,541.8 562.0,541.2 564.4,540.4 566.9,539.6 569.2,538.6 571.6,537.5 573.9,536.3 576.1,535.0 578.3,533.7 580.4,532.2 582.4,530.6 584.4,528.9 586.3,527.2 588.1,525.3 589.8,523.4 591.4,521.4 593.0,519.3 594.4,517.2 595.7,515.0Z" fill="none" stroke="#cd2029" stroke-width="1.35"/>
<path d="M609.5,464.0 609.5,462.7 609.5,461.4 609.4,460.0 609.3,458.7 609.2,457.4 609.1,456.1 609.0,454.7 608.8,453.4 608.6,452.1 608.4,450.8 608.2,449.5 608.0,448.2 607.7,446.9 607.4,445.6 607.1,444.3 606.8,443.0 606.4,441.7 606.0,440.5 605.6,439.2 605.2,437.9 604.8,436.7 604.3,435.4 603.8,434.2 603.3,433.0 602.7,431.8 602.2,430.6 601.6,429.4 601.0,428.2 600.3,427.0 599.7,425.9 599.0,424.7 598.3,423.6 597.6,422.4 596.8,421.3 596.1,420.3 595.3,419.2 594.5,418.1 593.7,417.1 592.8,416.0 592.0,415.0 591.1,414.0 590.2,413.0 589.3,412.1 588.4,411.1 587.4,410.2 586.4,409.3 585.5,408.4 584.5,407.5 583.5,406.6 582.5,405.8 581.4,405.0 580.4,404.1 579.3,403.3 578.2,402.6 577.1,401.8 576.1,401.1 574.9,400.3 573.8,399.6 572.7,398.9 571.6,398.3 570.4,397.6 569.2,397.0 568.1,396.4 566.9,395.8 565.7,395.2 564.5,394.6 563.3,394.1 562.1,393.6 560.8,393.1 559.6,392.6 558.3,392.1 557.1,391.7 555.8,391.3 554.6,390.9 553.3,390.5 552.0,390.1 550.7,389.8 549.4,389.5 548.1,389.2 546.8,389.0 545.5,388.7 544.2,388.5 542.9,388.3 541.6,388.2 540.2,388.0 538.9,387.9 537.6,387.8 536.3,387.8 534.9,387.7 533.6,387.7 532.3,387.7 530.9,387.8 529.6,387.8 528.3,387.9 527.0,388.0 525.6,388.2 524.3,388.3 523.0,388.5 521.7,388.7 520.4,389.0 519.1,389.2 517.8,389.5 516.5,389.8 515.2,390.1 513.9,390.5 512.6,390.9 511.4,391.3 510.1,391.7 508.9,392.1 507.6,392.6 506.4,393.1 505.1,393.6 503.9,394.1 502.7,394.6 501.5,395.2 500.3,395.8 499.1,396.4 498.0,397.0 496.8,397.6 495.7,398.3 494.5,398.9 493.4,399.6 492.3,400.3 491.1,401.1 490.1,401.8 489.0,402.6 487.9,403.3 486.8,404.1 485.8,405.0 484.7,405.8 483.7,406.6 482.7,407.5 481.7,408.4 480.8,409.3 479.8,410.2 478.8,411.1 477.9,412.1 477.0,413.0 476.1,414.0 475.2,415.0 474.4,416.0 473.5,417.1 472.7,418.1 471.9,419.2 471.1,420.3 470.4,421.3 469.6,422.4 468.9,423.6 468.2,424.7 467.5,425.9 466.9,427.0 466.2,428.2 465.6,429.4 465.0,430.6 464.5,431.8 463.9,433.0 463.4,434.2 462.9,435.4 462.4,436.7 462.0,437.9 461.6,439.2 461.2,440.5 460.8,441.7 460.4,443.0 460.1,444.3 459.8,445.6 459.5,446.9 459.2,448.2 459.0,449.5 458.8,450.8 458.6,452.1 458.4,453.4 458.2,454.7 458.1,456.1 458.0,457.4 457.9,458.7 457.8,460.0 457.7,461.4 457.7,462.7 457.7,464.0 457.7,465.3 457.7,466.6 457.8,468.0 457.9,469.3 458.0,470.6 458.1,471.9 458.2,473.3 458.4,474.6 458.6,475.9 458.8,477.2 459.0,478.5 459.2,479.8 459.5,481.1 459.8,482.4 460.1,483.7 460.4,485.0 460.8,486.3 461.2,487.5 461.6,488.8 462.0,490.1 462.4,491.3 462.9,492.6 463.4,493.8 463.9,495.0 464.5,496.2 465.0,497.4 465.6,498.6 466.2,499.8 466.9,501.0 467.5,502.1 468.2,503.3 468.9,504.4 469.6,505.6 470.4,506.7 471.1,507.7 471.9,508.8 472.7,509.9 473.5,510.9 474.4,512.0 475.2,513.0 476.1,514.0 477.0,515.0 477.9,515.9 478.8,516.9 479.8,517.8 480.8,518.7 481.7,519.6 482.7,520.5 483.7,521.4 484.7,522.2 485.8,523.0 486.8,523.9 487.9,524.7 489.0,525.4 490.1,526.2 491.1,526.9 492.3,527.7 493.4,528.4 494.5,529.1 495.6,529.7 496.8,530.4 498.0,531.0 499.1,531.6 500.3,532.2 501.5,532.8 502.7,533.4 503.9,533.9 505.1,534.4 506.4,534.9 507.6,535.4 508.9,535.9 510.1,536.3 511.4,536.7 512.6,537.1 513.9,537.5 515.2,537.9 516.5,538.2 517.8,538.5 519.1,538.8 520.4,539.0 521.7,539.3 523.0,539.5 524.3,539.7 525.6,539.8 527.0,540.0 528.3,540.1 529.6,540.2 530.9,540.2 532.3,540.3 533.6,540.3 534.9,540.3 536.3,540.2 537.6,540.2 538.9,540.1 540.2,540.0 541.6,539.8 542.9,539.7 544.2,539.5 545.5,539.3 546.8,539.0 548.1,538.8 549.4,538.5 550.7,538.2 552.0,537.9 553.3,537.5 554.6,537.1 555.8,536.7 557.1,536.3 558.3,535.9 559.6,535.4 560.8,534.9 562.1,534.4 563.3,533.9 564.5,533.4 565.7,532.8 566.9,532.2 568.1,531.6 569.2,531.0 570.4,530.4 571.6,529.7 572.7,529.1 573.8,528.4 574.9,527.7 576.1,526.9 577.1,526.2 578.2,525.4 579.3,524.7 580.4,523.9 581.4,523.0 582.5,522.2 583.5,521.4 584.5,520.5 585.5,519.6 586.4,518.7 587.4,517.8 588.4,516.9 589.3,515.9 590.2,515.0 591.1,514.0 592.0,513.0 592.8,512.0 593.7,510.9 594.5,509.9 595.3,508.8 596.1,507.7 596.8,506.7 597.6,505.6 598.3,504.4 599.0,503.3 599.7,502.2 600.3,501.0 601.0,499.8 601.6,498.6 602.2,497.4 602.7,496.2 603.3,495.0 603.8,493.8 604.3,492.6 604.8,491.3 605.2,490.1 605.6,488.8 606.0,487.5 606.4,486.3 606.8,485.0 607.1,483.7 607.4,482.4 607.7,481.1 608.0,479.8 608.2,478.5 608.4,477.2 608.6,475.9 608.8,474.6 609.0,473.3 609.1,471.9 609.2,470.6 609.3,469.3 609.4,468.0 609.5,466.6 609.5,465.3Z" fill="none" stroke="#cd2029" stroke-width="1.35"/>
<path d="M567.9,473.4 568.3,472.7 568.7,471.9 569.0,471.1 569.3,470.3 569.6,469.5 569.8,468.7 570.0,467.8 570.2,467.0 570.3,466.1 570.4,465.3 570.4,464.4 570.4,463.6 570.4,462.7 570.3,461.9 570.2,461.0 570.0,460.2 569.8,459.3 569.6,458.5 569.3,457.7 569.0,456.9 568.7,456.1 568.3,455.3 567.9,454.6 558.9,439.0 558.5,438.3 558.0,437.6 557.5,436.9 556.9,436.2 556.4,435.6 555.8,435.0 555.1,434.4 554.5,433.8 553.8,433.3 553.1,432.8 552.4,432.3 551.6,431.9 550.9,431.5 550.1,431.2 549.3,430.8 548.5,430.6 547.7,430.3 546.8,430.1 546.0,429.9 545.1,429.8 544.3,429.7 543.4,429.6 542.6,429.6 524.6,429.6 523.8,429.6 522.9,429.7 522.1,429.8 521.2,429.9 520.4,430.1 519.5,430.3 518.7,430.6 517.9,430.8 517.1,431.2 516.3,431.5 515.6,431.9 514.8,432.3 514.1,432.8 513.4,433.3 512.7,433.8 512.1,434.4 511.4,435.0 510.8,435.6 510.3,436.2 509.7,436.9 509.2,437.6 508.7,438.3 508.3,439.0 499.3,454.6 498.9,455.3 498.5,456.1 498.2,456.9 497.9,457.7 497.6,458.5 497.4,459.3 497.2,460.2 497.0,461.0 496.9,461.9 496.8,462.7 496.8,463.6 496.8,464.4 496.8,465.3 496.9,466.1 497.0,467.0 497.2,467.8 497.4,468.7 497.6,469.5 497.9,470.3 498.2,471.1 498.5,471.9 498.9,472.7 499.3,473.4 508.3,489.0 508.7,489.7 509.2,490.4 509.7,491.1 510.3,491.8 510.8,492.4 511.4,493.0 512.1,493.6 512.7,494.2 513.4,494.7 514.1,495.2 514.8,495.7 515.6,496.1 516.3,496.5 517.1,496.8 517.9,497.2 518.7,497.4 519.5,497.7 520.4,497.9 521.2,498.1 522.1,498.2 522.9,498.3 523.8,498.4 524.6,498.4 542.6,498.4 543.4,498.4 544.3,498.3 545.1,498.2 546.0,498.1 546.8,497.9 547.7,497.7 548.5,497.4 549.3,497.2 550.1,496.8 550.9,496.5 551.6,496.1 552.4,495.7 553.1,495.2 553.8,494.7 554.5,494.2 555.1,493.6 555.8,493.0 556.4,492.4 556.9,491.8 557.5,491.1 558.0,490.4 558.5,489.7 558.9,489.0Z" fill="none" stroke="#cd2029" stroke-width="1.35"/>
<path d="M558.6,464.0 558.6,463.6 558.6,463.1 558.6,462.7 558.5,462.3 558.5,461.8 558.4,461.4 558.4,461.0 558.3,460.5 558.3,460.1 558.2,459.7 558.1,459.2 558.0,458.8 557.9,458.4 557.8,458.0 557.7,457.6 557.5,457.1 557.4,456.7 557.3,456.3 557.1,455.9 557.0,455.5 556.8,455.1 556.6,454.7 556.4,454.3 556.2,453.9 556.1,453.5 555.9,453.1 555.6,452.8 555.4,452.4 555.2,452.0 555.0,451.6 554.8,451.3 554.5,450.9 554.3,450.6 554.0,450.2 553.8,449.9 553.5,449.5 553.2,449.2 553.0,448.9 552.7,448.5 552.4,448.2 552.1,447.9 551.8,447.6 551.5,447.3 551.2,447.0 550.9,446.7 550.6,446.4 550.3,446.1 550.0,445.8 549.6,445.5 549.3,445.3 549.0,445.0 548.6,444.8 548.3,444.5 548.0,444.2 547.6,444.0 547.2,443.8 546.9,443.5 546.5,443.3 546.2,443.1 545.8,442.9 545.4,442.7 545.1,442.5 544.7,442.3 544.3,442.1 543.9,441.9 543.5,441.7 543.1,441.5 542.8,441.4 542.4,441.2 542.0,441.0 541.6,440.9 541.2,440.7 540.8,440.6 540.3,440.5 539.9,440.3 539.5,440.2 539.1,440.1 538.7,440.0 538.3,439.9 537.9,439.8 537.4,439.7 537.0,439.7 536.6,439.6 536.2,439.5 535.7,439.5 535.3,439.4 534.9,439.4 534.5,439.3 534.0,439.3 533.6,439.3 533.2,439.3 532.7,439.3 532.3,439.3 531.9,439.3 531.4,439.3 531.0,439.3 530.6,439.4 530.1,439.4 529.7,439.5 529.3,439.5 528.9,439.6 528.4,439.7 528.0,439.7 527.6,439.8 527.2,439.9 526.7,440.0 526.3,440.2 525.9,440.3 525.5,440.4 525.1,440.5 524.7,440.7 524.2,440.8 523.8,441.0 523.4,441.2 523.0,441.4 522.6,441.5 522.3,441.7 521.9,441.9 521.5,442.1 521.1,442.3 520.7,442.6 520.4,442.8 520.0,443.0 519.6,443.3 519.3,443.5 518.9,443.8 518.6,444.1 518.2,444.3 517.9,444.6 517.6,444.9 517.2,445.2 516.9,445.5 516.6,445.8 516.3,446.1 516.0,446.4 515.7,446.7 515.4,447.0 515.1,447.4 514.8,447.7 514.6,448.0 514.3,448.4 514.0,448.7 513.8,449.1 513.5,449.4 513.3,449.8 513.1,450.2 512.8,450.5 512.6,450.9 512.4,451.3 512.2,451.6 512.0,452.0 511.8,452.4 511.6,452.8 511.5,453.2 511.3,453.6 511.1,454.0 511.0,454.4 510.8,454.8 510.7,455.2 510.5,455.6 510.4,456.0 510.3,456.4 510.2,456.8 510.0,457.2 509.9,457.7 509.9,458.1 509.8,458.5 509.7,458.9 509.6,459.3 509.5,459.8 509.5,460.2 509.4,460.6 509.4,461.0 509.3,461.4 509.3,461.9 509.3,462.3 509.2,462.7 509.2,463.1 509.2,463.6 509.2,464.0 509.2,464.4 509.2,464.9 509.2,465.3 509.3,465.7 509.3,466.1 509.3,466.6 509.4,467.0 509.4,467.4 509.5,467.8 509.5,468.2 509.6,468.7 509.7,469.1 509.8,469.5 509.9,469.9 509.9,470.3 510.0,470.8 510.2,471.2 510.3,471.6 510.4,472.0 510.5,472.4 510.7,472.8 510.8,473.2 511.0,473.6 511.1,474.0 511.3,474.4 511.5,474.8 511.6,475.2 511.8,475.6 512.0,476.0 512.2,476.4 512.4,476.7 512.6,477.1 512.8,477.5 513.1,477.8 513.3,478.2 513.5,478.6 513.8,478.9 514.0,479.3 514.3,479.6 514.6,480.0 514.8,480.3 515.1,480.6 515.4,481.0 515.7,481.3 516.0,481.6 516.3,481.9 516.6,482.2 516.9,482.5 517.2,482.8 517.6,483.1 517.9,483.4 518.2,483.7 518.6,483.9 518.9,484.2 519.3,484.5 519.6,484.7 520.0,485.0 520.4,485.2 520.7,485.4 521.1,485.7 521.5,485.9 521.9,486.1 522.3,486.3 522.6,486.5 523.0,486.6 523.4,486.8 523.8,487.0 524.2,487.2 524.7,487.3 525.1,487.5 525.5,487.6 525.9,487.7 526.3,487.8 526.7,488.0 527.2,488.1 527.6,488.2 528.0,488.3 528.4,488.3 528.9,488.4 529.3,488.5 529.7,488.5 530.1,488.6 530.6,488.6 531.0,488.7 531.4,488.7 531.9,488.7 532.3,488.7 532.7,488.7 533.2,488.7 533.6,488.7 534.0,488.7 534.5,488.7 534.9,488.6 535.3,488.6 535.7,488.5 536.2,488.5 536.6,488.4 537.0,488.3 537.4,488.3 537.9,488.2 538.3,488.1 538.7,488.0 539.1,487.9 539.5,487.8 539.9,487.7 540.3,487.5 540.8,487.4 541.2,487.3 541.6,487.1 542.0,487.0 542.4,486.8 542.8,486.6 543.1,486.5 543.5,486.3 543.9,486.1 544.3,485.9 544.7,485.7 545.1,485.5 545.4,485.3 545.8,485.1 546.2,484.9 546.5,484.7 546.9,484.5 547.2,484.2 547.6,484.0 548.0,483.8 548.3,483.5 548.6,483.2 549.0,483.0 549.3,482.7 549.6,482.5 550.0,482.2 550.3,481.9 550.6,481.6 550.9,481.3 551.2,481.0 551.5,480.7 551.8,480.4 552.1,480.1 552.4,479.8 552.7,479.5 553.0,479.1 553.2,478.8 553.5,478.5 553.8,478.1 554.0,477.8 554.3,477.4 554.5,477.1 554.8,476.7 555.0,476.4 555.2,476.0 555.4,475.6 555.6,475.2 555.9,474.9 556.1,474.5 556.2,474.1 556.4,473.7 556.6,473.3 556.8,472.9 557.0,472.5 557.1,472.1 557.3,471.7 557.4,471.3 557.5,470.9 557.7,470.4 557.8,470.0 557.9,469.6 558.0,469.2 558.1,468.8 558.2,468.3 558.3,467.9 558.3,467.5 558.4,467.0 558.4,466.6 558.5,466.2 558.5,465.7 558.6,465.3 558.6,464.9 558.6,464.4Z" fill="none" stroke="#cd2029" stroke-width="1.35"/>
<path d="M614.0,464.0 614.0,462.6 613.9,461.2 613.8,459.8 613.7,458.4 613.5,457.0 613.3,455.6 613.1,454.2 612.8,452.9 612.5,451.5 612.1,450.2 611.8,448.8 611.4,447.5 610.9,446.1 610.5,444.8 610.0,443.5 609.5,442.2 608.9,441.0 608.4,439.7 607.8,438.5 607.2,437.2 606.6,436.0 605.9,434.8 605.3,433.6 604.6,432.4 603.9,431.2 603.2,430.1 602.5,428.9 601.8,427.8 601.0,426.6 600.3,425.5 599.5,424.4 598.8,423.3 598.0,422.2 597.2,421.1 596.4,420.0 595.6,419.0 594.7,417.9 593.9,416.9 593.1,415.8 592.2,414.8 591.3,413.8 590.4,412.8 589.5,411.8 588.6,410.9 587.7,409.9 586.8,408.9 585.8,408.0 584.8,407.1 583.9,406.2 582.9,405.3 581.8,404.4 580.8,403.6 579.8,402.7 578.7,401.9 577.6,401.1 576.5,400.4 575.4,399.6 574.3,398.9 573.2,398.2 572.0,397.5 570.8,396.8 569.7,396.2 568.5,395.6 567.3,395.0 566.0,394.4 564.8,393.9 563.6,393.4 562.3,392.9 561.1,392.4 559.8,392.0 558.5,391.6 557.3,391.2 556.0,390.8 554.7,390.4 553.4,390.1 552.1,389.8 550.8,389.5 549.5,389.2 548.2,388.9 546.9,388.7 545.6,388.4 544.3,388.2 542.9,388.0 541.6,387.8 540.3,387.7 538.9,387.5 537.6,387.3 536.3,387.2 534.9,387.1 533.6,387.0 532.3,386.9 530.9,386.8 529.6,386.8 528.2,386.7 526.8,386.7 525.5,386.7 524.1,386.7 522.7,386.8 521.4,386.8 520.0,386.9 518.6,387.0 517.3,387.1 515.9,387.3 514.5,387.4 513.1,387.6 511.8,387.8 510.4,388.1 509.0,388.4 507.7,388.7 506.3,389.1 505.0,389.4 503.6,389.8 502.3,390.3 501.0,390.8 499.7,391.3 498.4,391.8 497.1,392.4 495.9,393.0 494.6,393.7 493.4,394.4 492.2,395.1 491.0,395.8 489.8,396.6 488.7,397.4 487.6,398.3 486.5,399.1 485.4,400.0 484.4,401.0 483.3,401.9 482.3,402.9 481.4,403.9 480.4,404.9 479.5,406.0 478.6,407.0 477.7,408.1 476.8,409.2 476.0,410.3 475.2,411.4 474.4,412.5 473.6,413.7 472.9,414.8 472.1,416.0 471.4,417.1 470.7,418.3 470.1,419.5 469.4,420.7 468.8,421.9 468.1,423.1 467.5,424.3 466.9,425.5 466.3,426.7 465.8,427.9 465.2,429.2 464.7,430.4 464.1,431.6 463.6,432.8 463.1,434.1 462.6,435.3 462.2,436.6 461.7,437.8 461.3,439.1 460.8,440.4 460.4,441.6 460.1,442.9 459.7,444.2 459.3,445.5 459.0,446.8 458.7,448.1 458.4,449.4 458.1,450.7 457.9,452.0 457.7,453.3 457.5,454.7 457.3,456.0 457.1,457.3 457.0,458.6 456.9,460.0 456.9,461.3 456.8,462.7 456.8,464.0 456.8,465.3 456.9,466.7 456.9,468.0 457.0,469.4 457.1,470.7 457.3,472.0 457.5,473.3 457.7,474.7 457.9,476.0 458.1,477.3 458.4,478.6 458.7,479.9 459.0,481.2 459.3,482.5 459.7,483.8 460.1,485.1 460.4,486.4 460.8,487.6 461.3,488.9 461.7,490.2 462.2,491.4 462.6,492.7 463.1,493.9 463.6,495.2 464.1,496.4 464.7,497.6 465.2,498.8 465.8,500.1 466.3,501.3 466.9,502.5 467.5,503.7 468.1,504.9 468.8,506.1 469.4,507.3 470.1,508.5 470.7,509.7 471.4,510.9 472.1,512.0 472.9,513.2 473.6,514.3 474.4,515.5 475.2,516.6 476.0,517.7 476.8,518.8 477.7,519.9 478.6,521.0 479.5,522.0 480.4,523.1 481.4,524.1 482.3,525.1 483.3,526.1 484.4,527.0 485.4,528.0 486.5,528.9 487.6,529.7 488.7,530.6 489.8,531.4 491.0,532.2 492.2,532.9 493.4,533.6 494.6,534.3 495.9,535.0 497.1,535.6 498.4,536.2 499.7,536.7 501.0,537.2 502.3,537.7 503.6,538.2 505.0,538.6 506.3,538.9 507.7,539.3 509.0,539.6 510.4,539.9 511.8,540.2 513.1,540.4 514.5,540.6 515.9,540.7 517.3,540.9 518.6,541.0 520.0,541.1 521.4,541.2 522.7,541.2 524.1,541.3 525.5,541.3 526.8,541.3 528.2,541.3 529.6,541.2 530.9,541.2 532.3,541.1 533.6,541.0 534.9,540.9 536.3,540.8 537.6,540.7 538.9,540.5 540.3,540.3 541.6,540.2 542.9,540.0 544.3,539.8 545.6,539.6 546.9,539.3 548.2,539.1 549.5,538.8 550.8,538.5 552.1,538.2 553.4,537.9 554.7,537.6 556.0,537.2 557.3,536.8 558.5,536.4 559.8,536.0 561.1,535.6 562.3,535.1 563.6,534.6 564.8,534.1 566.0,533.6 567.3,533.0 568.5,532.4 569.7,531.8 570.8,531.2 572.0,530.5 573.2,529.8 574.3,529.1 575.4,528.4 576.5,527.6 577.6,526.9 578.7,526.1 579.8,525.3 580.8,524.4 581.8,523.6 582.9,522.7 583.9,521.8 584.8,520.9 585.8,520.0 586.8,519.1 587.7,518.1 588.6,517.1 589.5,516.2 590.4,515.2 591.3,514.2 592.2,513.2 593.1,512.2 593.9,511.1 594.7,510.1 595.6,509.0 596.4,508.0 597.2,506.9 598.0,505.8 598.8,504.7 599.5,503.6 600.3,502.5 601.0,501.4 601.8,500.2 602.5,499.1 603.2,497.9 603.9,496.8 604.6,495.6 605.3,494.4 605.9,493.2 606.6,492.0 607.2,490.8 607.8,489.5 608.4,488.3 608.9,487.0 609.5,485.8 610.0,484.5 610.5,483.2 610.9,481.9 611.4,480.5 611.8,479.2 612.1,477.8 612.5,476.5 612.8,475.1 613.1,473.8 613.3,472.4 613.5,471.0 613.7,469.6 613.8,468.2 613.9,466.8 614.0,465.4Z" fill="none" stroke="#404040" stroke-width="1.3" stroke-dasharray="6.3,2.7"/>
<path d="M572.8,464.0 572.8,463.3 572.7,462.6 572.7,462.0 572.5,461.3 572.4,460.6 572.2,459.9 572.0,459.3 571.8,458.6 571.5,458.0 571.2,457.4 570.9,456.8 570.5,456.1 570.2,455.6 569.8,455.0 569.4,454.4 569.0,453.9 568.5,453.3 568.1,452.8 567.6,452.3 567.1,451.8 566.7,451.3 566.2,450.8 565.7,450.4 565.2,449.9 564.7,449.5 564.2,449.1 563.7,448.7 563.2,448.3 562.7,447.9 562.2,447.5 561.7,447.1 561.2,446.8 560.7,446.4 560.2,446.0 559.7,445.7 559.3,445.3 558.8,445.0 558.3,444.7 557.9,444.3 557.4,444.0 557.0,443.7 556.5,443.4 556.1,443.0 555.6,442.7 555.2,442.4 554.8,442.1 554.3,441.8 553.9,441.5 553.5,441.2 553.0,440.9 552.6,440.6 552.2,440.3 551.7,440.0 551.3,439.7 550.8,439.4 550.4,439.1 549.9,438.8 549.5,438.6 549.1,438.3 548.6,438.0 548.1,437.8 547.7,437.5 547.2,437.3 546.8,437.0 546.3,436.8 545.8,436.5 545.4,436.3 544.9,436.1 544.4,435.8 543.9,435.6 543.5,435.4 543.0,435.2 542.5,434.9 542.0,434.7 541.5,434.5 541.0,434.3 540.5,434.0 540.0,433.8 539.5,433.6 539.0,433.4 538.5,433.1 538.0,432.9 537.4,432.7 536.9,432.4 536.4,432.2 535.8,432.0 535.3,431.7 534.7,431.5 534.2,431.2 533.6,431.0 533.0,430.8 532.4,430.5 531.8,430.3 531.2,430.1 530.6,429.8 530.0,429.6 529.4,429.4 528.7,429.2 528.1,429.0 527.4,428.8 526.7,428.7 526.1,428.5 525.4,428.4 524.7,428.3 524.0,428.2 523.3,428.1 522.6,428.1 521.9,428.1 521.2,428.1 520.5,428.1 519.8,428.2 519.2,428.3 518.5,428.4 517.8,428.5 517.1,428.7 516.5,428.9 515.8,429.2 515.2,429.4 514.6,429.7 514.0,430.1 513.4,430.4 512.8,430.8 512.3,431.2 511.8,431.6 511.3,432.1 510.8,432.6 510.3,433.1 509.9,433.6 509.5,434.2 509.1,434.7 508.7,435.3 508.3,435.9 508.0,436.5 507.7,437.2 507.4,437.8 507.1,438.4 506.9,439.1 506.7,439.7 506.4,440.4 506.3,441.1 506.1,441.7 505.9,442.4 505.8,443.0 505.6,443.7 505.5,444.3 505.4,445.0 505.3,445.6 505.2,446.2 505.1,446.9 505.0,447.5 504.9,448.1 504.9,448.7 504.8,449.3 504.7,449.9 504.7,450.5 504.6,451.1 504.6,451.7 504.5,452.2 504.4,452.8 504.4,453.4 504.3,453.9 504.3,454.5 504.2,455.0 504.1,455.6 504.1,456.1 504.0,456.6 504.0,457.2 503.9,457.7 503.9,458.2 503.8,458.8 503.8,459.3 503.8,459.8 503.7,460.3 503.7,460.9 503.7,461.4 503.6,461.9 503.6,462.4 503.6,463.0 503.6,463.5 503.6,464.0 503.6,464.5 503.6,465.0 503.6,465.6 503.6,466.1 503.7,466.6 503.7,467.1 503.7,467.7 503.8,468.2 503.8,468.7 503.8,469.2 503.9,469.8 503.9,470.3 504.0,470.8 504.0,471.4 504.1,471.9 504.1,472.4 504.2,473.0 504.3,473.5 504.3,474.1 504.4,474.6 504.4,475.2 504.5,475.8 504.6,476.3 504.6,476.9 504.7,477.5 504.7,478.1 504.8,478.7 504.9,479.3 504.9,479.9 505.0,480.5 505.1,481.1 505.2,481.8 505.3,482.4 505.4,483.0 505.5,483.7 505.6,484.3 505.8,485.0 505.9,485.6 506.1,486.3 506.3,486.9 506.4,487.6 506.7,488.3 506.9,488.9 507.1,489.6 507.4,490.2 507.7,490.8 508.0,491.5 508.3,492.1 508.7,492.7 509.1,493.3 509.5,493.8 509.9,494.4 510.3,494.9 510.8,495.4 511.3,495.9 511.8,496.4 512.3,496.8 512.8,497.2 513.4,497.6 514.0,497.9 514.6,498.3 515.2,498.6 515.8,498.8 516.5,499.1 517.1,499.3 517.8,499.5 518.5,499.6 519.2,499.7 519.8,499.8 520.5,499.9 521.2,499.9 521.9,499.9 522.6,499.9 523.3,499.9 524.0,499.8 524.7,499.7 525.4,499.6 526.1,499.5 526.7,499.3 527.4,499.2 528.1,499.0 528.7,498.8 529.4,498.6 530.0,498.4 530.6,498.2 531.2,497.9 531.8,497.7 532.4,497.5 533.0,497.2 533.6,497.0 534.2,496.8 534.7,496.5 535.3,496.3 535.8,496.0 536.4,495.8 536.9,495.6 537.4,495.3 538.0,495.1 538.5,494.9 539.0,494.6 539.5,494.4 540.0,494.2 540.5,494.0 541.0,493.7 541.5,493.5 542.0,493.3 542.5,493.1 543.0,492.8 543.5,492.6 543.9,492.4 544.4,492.2 544.9,491.9 545.4,491.7 545.8,491.5 546.3,491.2 546.8,491.0 547.2,490.7 547.7,490.5 548.1,490.2 548.6,490.0 549.1,489.7 549.5,489.4 549.9,489.2 550.4,488.9 550.8,488.6 551.3,488.3 551.7,488.0 552.2,487.7 552.6,487.4 553.0,487.1 553.5,486.8 553.9,486.5 554.3,486.2 554.8,485.9 555.2,485.6 555.6,485.3 556.1,485.0 556.5,484.6 557.0,484.3 557.4,484.0 557.9,483.7 558.3,483.3 558.8,483.0 559.3,482.7 559.7,482.3 560.2,482.0 560.7,481.6 561.2,481.2 561.7,480.9 562.2,480.5 562.7,480.1 563.2,479.7 563.7,479.3 564.2,478.9 564.7,478.5 565.2,478.1 565.7,477.6 566.2,477.2 566.7,476.7 567.1,476.2 567.6,475.7 568.1,475.2 568.5,474.7 569.0,474.1 569.4,473.6 569.8,473.0 570.2,472.4 570.5,471.9 570.9,471.2 571.2,470.6 571.5,470.0 571.8,469.4 572.0,468.7 572.2,468.1 572.4,467.4 572.5,466.7 572.7,466.0 572.7,465.4 572.8,464.7Z" fill="none" stroke="#404040" stroke-width="1.3" stroke-dasharray="6.3,2.7"/>
<path d="M610.4,464.0 610.4,462.7 610.3,461.3 610.3,460.0 610.2,458.6 610.1,457.3 609.9,456.0 609.7,454.7 609.5,453.3 609.3,452.0 609.1,450.7 608.8,449.4 608.5,448.1 608.2,446.8 607.9,445.5 607.5,444.2 607.1,442.9 606.8,441.6 606.4,440.4 605.9,439.1 605.5,437.8 605.0,436.6 604.6,435.3 604.1,434.1 603.6,432.8 603.1,431.6 602.5,430.4 602.0,429.2 601.4,427.9 600.9,426.7 600.3,425.5 599.7,424.3 599.1,423.1 598.4,421.9 597.8,420.7 597.1,419.5 596.5,418.3 595.8,417.1 595.1,416.0 594.3,414.8 593.6,413.7 592.8,412.5 592.0,411.4 591.2,410.3 590.4,409.2 589.5,408.1 588.6,407.0 587.7,406.0 586.8,404.9 585.8,403.9 584.9,402.9 583.9,401.9 582.8,401.0 581.8,400.0 580.7,399.1 579.6,398.3 578.5,397.4 577.4,396.6 576.2,395.8 575.0,395.1 573.8,394.4 572.6,393.7 571.3,393.0 570.1,392.4 568.8,391.8 567.5,391.3 566.2,390.8 564.9,390.3 563.6,389.8 562.2,389.4 560.9,389.1 559.5,388.7 558.2,388.4 556.8,388.1 555.4,387.8 554.1,387.6 552.7,387.4 551.3,387.3 549.9,387.1 548.6,387.0 547.2,386.9 545.8,386.8 544.5,386.8 543.1,386.7 541.7,386.7 540.4,386.7 539.0,386.7 537.6,386.8 536.3,386.8 534.9,386.9 533.6,387.0 532.3,387.1 530.9,387.2 529.6,387.3 528.3,387.5 526.9,387.7 525.6,387.8 524.3,388.0 522.9,388.2 521.6,388.4 520.3,388.7 519.0,388.9 517.7,389.2 516.4,389.5 515.1,389.8 513.8,390.1 512.5,390.4 511.2,390.8 509.9,391.2 508.7,391.6 507.4,392.0 506.1,392.4 504.9,392.9 503.6,393.4 502.4,393.9 501.2,394.4 499.9,395.0 498.7,395.6 497.5,396.2 496.4,396.8 495.2,397.5 494.0,398.2 492.9,398.9 491.8,399.6 490.7,400.4 489.6,401.1 488.5,401.9 487.4,402.7 486.4,403.6 485.4,404.4 484.3,405.3 483.3,406.2 482.4,407.1 481.4,408.0 480.4,408.9 479.5,409.9 478.6,410.9 477.7,411.8 476.8,412.8 475.9,413.8 475.0,414.8 474.1,415.8 473.3,416.9 472.5,417.9 471.6,419.0 470.8,420.0 470.0,421.1 469.2,422.2 468.4,423.3 467.7,424.4 466.9,425.5 466.2,426.6 465.4,427.8 464.7,428.9 464.0,430.1 463.3,431.2 462.6,432.4 461.9,433.6 461.3,434.8 460.6,436.0 460.0,437.2 459.4,438.5 458.8,439.7 458.3,441.0 457.7,442.2 457.2,443.5 456.7,444.8 456.3,446.1 455.8,447.5 455.4,448.8 455.1,450.2 454.7,451.5 454.4,452.9 454.1,454.2 453.9,455.6 453.7,457.0 453.5,458.4 453.4,459.8 453.3,461.2 453.2,462.6 453.2,464.0 453.2,465.4 453.3,466.8 453.4,468.2 453.5,469.6 453.7,471.0 453.9,472.4 454.1,473.8 454.4,475.1 454.7,476.5 455.1,477.8 455.4,479.2 455.8,480.5 456.3,481.9 456.7,483.2 457.2,484.5 457.7,485.8 458.3,487.0 458.8,488.3 459.4,489.5 460.0,490.8 460.6,492.0 461.3,493.2 461.9,494.4 462.6,495.6 463.3,496.8 464.0,497.9 464.7,499.1 465.4,500.2 466.2,501.4 466.9,502.5 467.7,503.6 468.4,504.7 469.2,505.8 470.0,506.9 470.8,508.0 471.6,509.0 472.5,510.1 473.3,511.1 474.1,512.2 475.0,513.2 475.9,514.2 476.8,515.2 477.7,516.2 478.6,517.1 479.5,518.1 480.4,519.1 481.4,520.0 482.4,520.9 483.3,521.8 484.3,522.7 485.4,523.6 486.4,524.4 487.4,525.3 488.5,526.1 489.6,526.9 490.7,527.6 491.8,528.4 492.9,529.1 494.0,529.8 495.2,530.5 496.4,531.2 497.5,531.8 498.7,532.4 499.9,533.0 501.2,533.6 502.4,534.1 503.6,534.6 504.9,535.1 506.1,535.6 507.4,536.0 508.7,536.4 509.9,536.8 511.2,537.2 512.5,537.6 513.8,537.9 515.1,538.2 516.4,538.5 517.7,538.8 519.0,539.1 520.3,539.3 521.6,539.6 522.9,539.8 524.3,540.0 525.6,540.2 526.9,540.3 528.3,540.5 529.6,540.7 530.9,540.8 532.3,540.9 533.6,541.0 534.9,541.1 536.3,541.2 537.6,541.2 539.0,541.3 540.4,541.3 541.7,541.3 543.1,541.3 544.5,541.2 545.8,541.2 547.2,541.1 548.6,541.0 549.9,540.9 551.3,540.7 552.7,540.6 554.1,540.4 555.4,540.2 556.8,539.9 558.2,539.6 559.5,539.3 560.9,538.9 562.2,538.6 563.6,538.2 564.9,537.7 566.2,537.2 567.5,536.7 568.8,536.2 570.1,535.6 571.3,535.0 572.6,534.3 573.8,533.6 575.0,532.9 576.2,532.2 577.4,531.4 578.5,530.6 579.6,529.7 580.7,528.9 581.8,528.0 582.8,527.0 583.9,526.1 584.9,525.1 585.8,524.1 586.8,523.1 587.7,522.0 588.6,521.0 589.5,519.9 590.4,518.8 591.2,517.7 592.0,516.6 592.8,515.5 593.6,514.3 594.3,513.2 595.1,512.0 595.8,510.9 596.5,509.7 597.1,508.5 597.8,507.3 598.4,506.1 599.1,504.9 599.7,503.7 600.3,502.5 600.9,501.3 601.4,500.1 602.0,498.8 602.5,497.6 603.1,496.4 603.6,495.2 604.1,493.9 604.6,492.7 605.0,491.4 605.5,490.2 605.9,488.9 606.4,487.6 606.8,486.4 607.1,485.1 607.5,483.8 607.9,482.5 608.2,481.2 608.5,479.9 608.8,478.6 609.1,477.3 609.3,476.0 609.5,474.7 609.7,473.3 609.9,472.0 610.1,470.7 610.2,469.4 610.3,468.0 610.3,466.7 610.4,465.3Z" fill="none" stroke="#404040" stroke-width="1.3" stroke-dasharray="6.3,2.7"/>
<path d="M563.6,464.0 563.6,463.5 563.6,463.0 563.6,462.4 563.6,461.9 563.5,461.4 563.5,460.9 563.5,460.3 563.4,459.8 563.4,459.3 563.4,458.8 563.3,458.2 563.3,457.7 563.2,457.2 563.2,456.6 563.1,456.1 563.1,455.6 563.0,455.0 562.9,454.5 562.9,453.9 562.8,453.4 562.8,452.8 562.7,452.2 562.6,451.7 562.6,451.1 562.5,450.5 562.5,449.9 562.4,449.3 562.3,448.7 562.3,448.1 562.2,447.5 562.1,446.9 562.0,446.2 561.9,445.6 561.8,445.0 561.7,444.3 561.6,443.7 561.4,443.0 561.3,442.4 561.1,441.7 560.9,441.1 560.8,440.4 560.5,439.7 560.3,439.1 560.1,438.4 559.8,437.8 559.5,437.2 559.2,436.5 558.9,435.9 558.5,435.3 558.1,434.7 557.7,434.2 557.3,433.6 556.9,433.1 556.4,432.6 555.9,432.1 555.4,431.6 554.9,431.2 554.4,430.8 553.8,430.4 553.2,430.1 552.6,429.7 552.0,429.4 551.4,429.2 550.7,428.9 550.1,428.7 549.4,428.5 548.7,428.4 548.0,428.3 547.4,428.2 546.7,428.1 546.0,428.1 545.3,428.1 544.6,428.1 543.9,428.1 543.2,428.2 542.5,428.3 541.8,428.4 541.1,428.5 540.5,428.7 539.8,428.8 539.1,429.0 538.5,429.2 537.8,429.4 537.2,429.6 536.6,429.8 536.0,430.1 535.4,430.3 534.8,430.5 534.2,430.8 533.6,431.0 533.0,431.2 532.5,431.5 531.9,431.7 531.4,432.0 530.8,432.2 530.3,432.4 529.8,432.7 529.2,432.9 528.7,433.1 528.2,433.4 527.7,433.6 527.2,433.8 526.7,434.0 526.2,434.3 525.7,434.5 525.2,434.7 524.7,434.9 524.2,435.2 523.7,435.4 523.3,435.6 522.8,435.8 522.3,436.1 521.8,436.3 521.4,436.5 520.9,436.8 520.4,437.0 520.0,437.3 519.5,437.5 519.1,437.8 518.6,438.0 518.1,438.3 517.7,438.6 517.3,438.8 516.8,439.1 516.4,439.4 515.9,439.7 515.5,440.0 515.0,440.3 514.6,440.6 514.2,440.9 513.7,441.2 513.3,441.5 512.9,441.8 512.4,442.1 512.0,442.4 511.6,442.7 511.1,443.0 510.7,443.4 510.2,443.7 509.8,444.0 509.3,444.3 508.9,444.7 508.4,445.0 507.9,445.3 507.5,445.7 507.0,446.0 506.5,446.4 506.0,446.8 505.5,447.1 505.0,447.5 504.5,447.9 504.0,448.3 503.5,448.7 503.0,449.1 502.5,449.5 502.0,449.9 501.5,450.4 501.0,450.8 500.5,451.3 500.1,451.8 499.6,452.3 499.1,452.8 498.7,453.3 498.2,453.9 497.8,454.4 497.4,455.0 497.0,455.6 496.7,456.1 496.3,456.8 496.0,457.4 495.7,458.0 495.4,458.6 495.2,459.3 495.0,459.9 494.8,460.6 494.7,461.3 494.5,462.0 494.5,462.6 494.4,463.3 494.4,464.0 494.4,464.7 494.5,465.4 494.5,466.0 494.7,466.7 494.8,467.4 495.0,468.1 495.2,468.7 495.4,469.4 495.7,470.0 496.0,470.6 496.3,471.2 496.7,471.9 497.0,472.4 497.4,473.0 497.8,473.6 498.2,474.1 498.7,474.7 499.1,475.2 499.6,475.7 500.1,476.2 500.5,476.7 501.0,477.2 501.5,477.6 502.0,478.1 502.5,478.5 503.0,478.9 503.5,479.3 504.0,479.7 504.5,480.1 505.0,480.5 505.5,480.9 506.0,481.2 506.5,481.6 507.0,482.0 507.5,482.3 507.9,482.7 508.4,483.0 508.9,483.3 509.3,483.7 509.8,484.0 510.2,484.3 510.7,484.6 511.1,485.0 511.6,485.3 512.0,485.6 512.4,485.9 512.9,486.2 513.3,486.5 513.7,486.8 514.2,487.1 514.6,487.4 515.0,487.7 515.5,488.0 515.9,488.3 516.4,488.6 516.8,488.9 517.3,489.2 517.7,489.4 518.1,489.7 518.6,490.0 519.1,490.2 519.5,490.5 520.0,490.7 520.4,491.0 520.9,491.2 521.4,491.5 521.8,491.7 522.3,491.9 522.8,492.2 523.3,492.4 523.7,492.6 524.2,492.8 524.7,493.1 525.2,493.3 525.7,493.5 526.2,493.7 526.7,494.0 527.2,494.2 527.7,494.4 528.2,494.6 528.7,494.9 529.2,495.1 529.8,495.3 530.3,495.6 530.8,495.8 531.4,496.0 531.9,496.3 532.5,496.5 533.0,496.8 533.6,497.0 534.2,497.2 534.8,497.5 535.4,497.7 536.0,497.9 536.6,498.2 537.2,498.4 537.8,498.6 538.5,498.8 539.1,499.0 539.8,499.2 540.5,499.3 541.1,499.5 541.8,499.6 542.5,499.7 543.2,499.8 543.9,499.9 544.6,499.9 545.3,499.9 546.0,499.9 546.7,499.9 547.4,499.8 548.0,499.7 548.7,499.6 549.4,499.5 550.1,499.3 550.7,499.1 551.4,498.8 552.0,498.6 552.6,498.3 553.2,497.9 553.8,497.6 554.4,497.2 554.9,496.8 555.4,496.4 555.9,495.9 556.4,495.4 556.9,494.9 557.3,494.4 557.7,493.8 558.1,493.3 558.5,492.7 558.9,492.1 559.2,491.5 559.5,490.8 559.8,490.2 560.1,489.6 560.3,488.9 560.5,488.3 560.8,487.6 560.9,486.9 561.1,486.3 561.3,485.6 561.4,485.0 561.6,484.3 561.7,483.7 561.8,483.0 561.9,482.4 562.0,481.8 562.1,481.1 562.2,480.5 562.3,479.9 562.3,479.3 562.4,478.7 562.5,478.1 562.5,477.5 562.6,476.9 562.6,476.3 562.7,475.8 562.8,475.2 562.8,474.6 562.9,474.1 562.9,473.5 563.0,473.0 563.1,472.4 563.1,471.9 563.2,471.4 563.2,470.8 563.3,470.3 563.3,469.8 563.4,469.2 563.4,468.7 563.4,468.2 563.5,467.7 563.5,467.1 563.5,466.6 563.6,466.1 563.6,465.6 563.6,465.0 563.6,464.5Z" fill="none" stroke="#404040" stroke-width="1.3" stroke-dasharray="6.3,2.7"/>
<rect x="423.9" y="354.5" width="219.5" height="218.79999999999995" fill="none" stroke="#000" stroke-width="1.05"/>
<path d="M469.0,573.3 V578.3" stroke="#000" stroke-width="1.05"/>
<text x="469.0" y="598.5999999999999" font-family="DejaVu Sans, Liberation Sans, sans-serif" stroke="#000" stroke-width="0.3" font-size="19.5" text-anchor="middle">−0.05</text>
<path d="M418.9,528.6 H423.9" stroke="#000" stroke-width="1.05"/>
<path d="M533.6,573.3 V578.3" stroke="#000" stroke-width="1.05"/>
<text x="533.6" y="598.5999999999999" font-family="DejaVu Sans, Liberation Sans, sans-serif" stroke="#000" stroke-width="0.3" font-size="19.5" text-anchor="middle">0.00</text>
<path d="M418.9,464.0 H423.9" stroke="#000" stroke-width="1.05"/>
<path d="M598.2,573.3 V578.3" stroke="#000" stroke-width="1.05"/>
<text x="598.2" y="598.5999999999999" font-family="DejaVu Sans, Liberation Sans, sans-serif" stroke="#000" stroke-width="0.3" font-size="19.5" text-anchor="middle">0.05</text>
<path d="M418.9,399.4 H423.9" stroke="#000" stroke-width="1.05"/>
<text transform="translate(387.8,369) scale(1.04,1)" font-family="Liberation Serif, DejaVu Serif, serif" font-size="26.5" font-weight="bold">(d)</text>
<text x="512.6" y="627.7" font-family="Liberation Serif, DejaVu Serif, serif" font-size="27.5" font-style="italic">ak<tspan font-size="20" dy="4.5" dx="3">x</tspan></text>
<rect x="652.6" y="500.65" width="11.199999999999932" height="73.85" fill="#a69aba"/>
<rect x="652.6" y="427.10" width="11.199999999999932" height="73.85" fill="#b2c3c3"/>
<rect x="652.6" y="353.55" width="11.199999999999932" height="73.85" fill="#cdd9ae"/>
<rect x="652.6" y="353.55" width="11.199999999999932" height="220.65000000000003" fill="none" stroke="#000" stroke-width="1.05"/>
<path d="M663.8,353.6 H668.8" stroke="#000" stroke-width="1.05"/>
<path d="M663.8,427.1 H668.8" stroke="#000" stroke-width="1.05"/>
<path d="M663.8,500.7 H668.8" stroke="#000" stroke-width="1.05"/>
<path d="M663.8,574.2 H668.8" stroke="#000" stroke-width="1.05"/>
<text x="674.2" y="398.2" font-family="DejaVu Sans, Liberation Sans, sans-serif" stroke="#000" stroke-width="0.3" font-size="19.5">2</text>
<text x="674.2" y="471.7" font-family="DejaVu Sans, Liberation Sans, sans-serif" stroke="#000" stroke-width="0.3" font-size="19.5">1</text>
<text x="674.2" y="545.3" font-family="DejaVu Sans, Liberation Sans, sans-serif" stroke="#000" stroke-width="0.3" font-size="19.5">0</text>
<text x="647.2" y="596.5" font-family="Liberation Serif, DejaVu Serif, serif" font-size="27.5" font-style="italic">n<tspan font-size="19.5" dy="3.6" dx="2.5" font-style="normal">e</tspan></text>
</svg>
</body></html>
